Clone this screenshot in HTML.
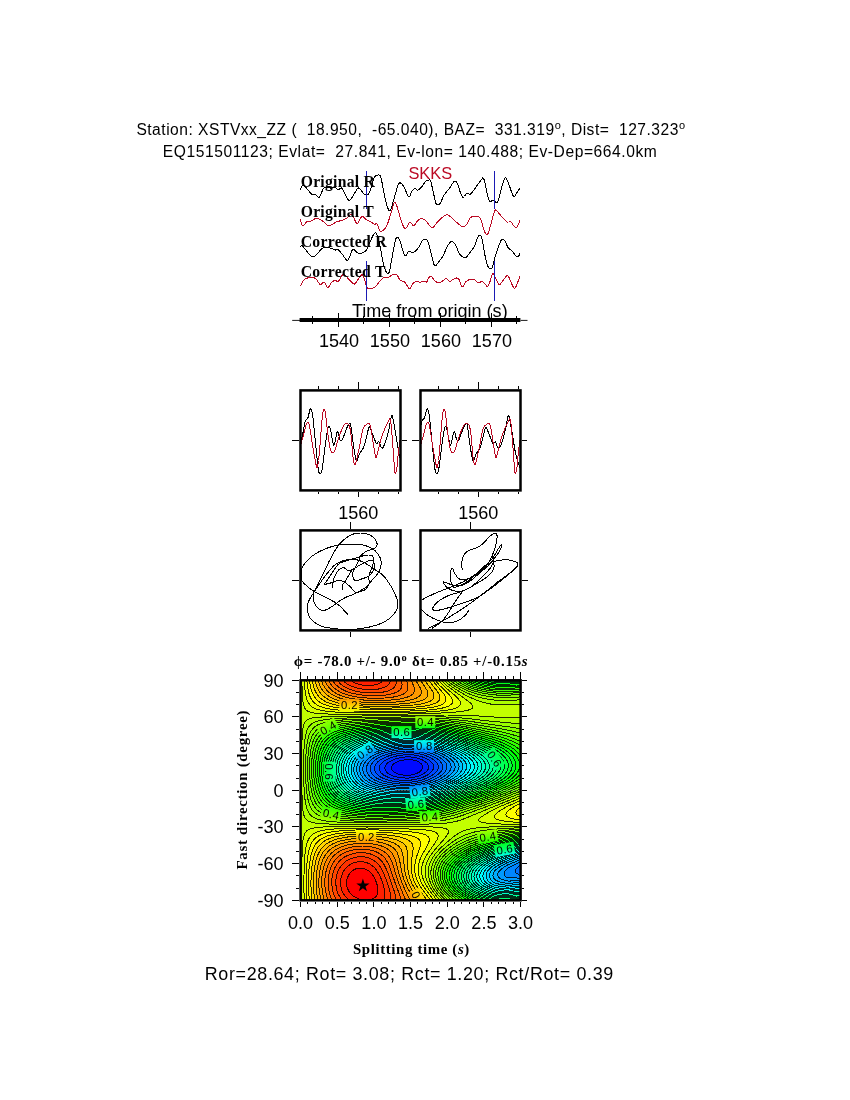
<!DOCTYPE html>
<html><head><meta charset="utf-8"><title>Shear-wave splitting XSTVxx_ZZ</title>
<style>html,body{margin:0;padding:0;background:#fff}body{width:850px;height:1100px;overflow:hidden}</style></head>
<body>
<svg width="850" height="1100" viewBox="0 0 850 1100" style="display:block">
<rect width="850" height="1100" fill="#fff"/>
<g font-family='"Liberation Sans", sans-serif' font-size="15.6" fill="#000" style="white-space:pre">
<text x="136.4" y="134.8" xml:space="preserve" textLength="548.6" lengthAdjust="spacing">Station: XSTVxx_ZZ (  18.950,  -65.040), BAZ=  331.319<tspan font-size="11" dy="-6">o</tspan><tspan dy="6">, Dist=  127.323</tspan><tspan font-size="11" dy="-6">o</tspan></text>
<text x="162.8" y="157.2" xml:space="preserve" textLength="494" lengthAdjust="spacing">EQ151501123; Evlat=  27.841, Ev-lon= 140.488; Ev-Dep=664.0km</text>
</g>
<path d="M300.5 190.5 L301.0 188.5 L301.5 186.9 L302.0 186.0 L302.5 185.5 L303.0 185.2 L303.5 185.2 L304.0 185.5 L304.5 185.9 L305.0 186.4 L305.5 186.9 L306.0 187.5 L306.5 188.1 L307.0 188.8 L307.5 189.4 L308.0 190.0 L308.5 190.6 L309.0 191.2 L309.5 191.8 L310.0 192.4 L310.5 193.0 L311.0 193.5 L311.5 194.0 L312.0 194.4 L312.5 194.5 L313.0 194.6 L313.5 194.5 L314.0 194.4 L314.5 194.4 L315.0 194.5 L315.5 194.8 L316.0 195.2 L316.5 195.7 L317.0 196.3 L317.5 196.8 L318.0 197.3 L318.5 197.5 L319.0 197.5 L319.5 197.1 L320.0 196.4 L320.5 195.3 L321.0 194.2 L321.5 193.0 L322.0 191.6 L322.5 190.1 L323.0 189.0 L323.5 188.4 L324.0 188.0 L324.5 187.7 L325.0 187.5 L325.5 187.5 L326.0 187.5 L326.5 187.5 L327.0 187.6 L327.5 187.7 L328.0 187.8 L328.5 187.9 L329.0 187.9 L329.5 188.0 L330.0 188.0 L330.5 188.0 L331.0 188.0 L331.5 187.9 L332.0 187.8 L332.5 187.7 L333.0 187.7 L333.5 187.6 L334.0 187.5 L334.5 187.5 L335.0 187.5 L335.5 187.6 L336.0 187.9 L336.5 188.4 L337.0 188.8 L337.5 189.2 L338.0 189.5 L338.5 189.5 L339.0 189.3 L339.5 188.9 L340.0 188.5 L340.5 188.1 L341.0 187.9 L341.5 188.0 L342.0 188.5 L342.5 189.3 L343.0 190.2 L343.5 191.1 L344.0 192.1 L344.5 193.1 L345.0 194.0 L345.5 194.9 L346.0 195.9 L346.5 197.0 L347.0 197.9 L347.5 198.8 L348.0 199.6 L348.5 200.2 L349.0 200.5 L349.5 200.5 L350.0 200.3 L350.5 199.8 L351.0 199.2 L351.5 198.4 L352.0 197.5 L352.5 196.6 L353.0 195.7 L353.5 194.8 L354.0 194.0 L354.5 193.2 L355.0 192.4 L355.5 191.6 L356.0 190.7 L356.5 189.9 L357.0 189.2 L357.5 188.5 L358.0 188.1 L358.5 188.0 L359.0 188.2 L359.5 188.6 L360.0 189.0 L360.5 189.5 L361.0 190.1 L361.5 190.8 L362.0 191.5 L362.5 192.2 L363.0 192.9 L363.5 193.5 L364.0 194.0 L364.5 194.4 L365.0 194.7 L365.5 194.9 L366.0 195.0 L366.5 195.0 L367.0 194.9 L367.5 194.7 L368.0 194.4 L368.5 193.8 L369.0 193.0 L369.5 192.0 L370.0 190.8 L370.5 189.4 L371.0 188.0 L371.5 186.4 L372.0 184.6 L372.5 182.7 L373.0 180.9 L373.5 179.3 L374.0 178.0 L374.5 177.1 L375.0 176.4 L375.5 175.9 L376.0 175.5 L376.5 175.3 L377.0 175.2 L377.5 175.1 L378.0 175.0 L378.5 174.9 L379.0 175.0 L379.5 175.2 L380.0 175.5 L380.5 176.4 L381.0 178.0 L381.5 180.1 L382.0 182.5 L382.5 185.1 L383.0 187.8 L383.5 190.5 L384.0 193.2 L384.5 195.7 L385.0 198.0 L385.5 200.1 L386.0 202.1 L386.5 203.9 L387.0 205.6 L387.5 207.2 L388.0 208.5 L388.5 209.6 L389.0 210.5 L389.5 211.0 L390.0 210.9 L390.5 210.3 L391.0 209.0 L391.5 207.4 L392.0 205.8 L392.5 204.1 L393.0 202.4 L393.5 200.7 L394.0 199.0 L394.5 197.2 L395.0 195.4 L395.5 193.6 L396.0 191.8 L396.5 190.0 L397.0 188.2 L397.5 186.5 L398.0 185.1 L398.5 184.0 L399.0 183.3 L399.5 183.0 L400.0 182.9 L400.5 183.0 L401.0 183.3 L401.5 183.7 L402.0 184.3 L402.5 184.9 L403.0 185.5 L403.5 186.3 L404.0 187.0 L404.5 187.9 L405.0 188.9 L405.5 190.1 L406.0 191.4 L406.5 192.7 L407.0 193.9 L407.5 195.0 L408.0 195.9 L408.5 196.6 L409.0 197.0 L409.5 196.8 L410.0 195.9 L410.5 194.6 L411.0 193.2 L411.5 191.9 L412.0 191.0 L412.5 190.4 L413.0 189.9 L413.5 189.4 L414.0 189.0 L414.5 188.7 L415.0 188.5 L415.5 188.6 L416.0 189.0 L416.5 189.5 L417.0 189.9 L417.5 190.2 L418.0 190.2 L418.5 189.9 L419.0 189.6 L419.5 189.2 L420.0 188.7 L420.5 188.2 L421.0 187.7 L421.5 187.1 L422.0 186.5 L422.5 185.8 L423.0 185.0 L423.5 184.2 L424.0 183.4 L424.5 182.7 L425.0 182.0 L425.5 181.5 L426.0 181.0 L426.5 180.7 L427.0 180.5 L427.5 180.3 L428.0 180.2 L428.5 180.1 L429.0 180.0 L429.5 179.9 L430.0 179.9 L430.5 180.5 L431.0 182.0 L431.5 184.2 L432.0 186.5 L432.5 188.7 L433.0 191.0 L433.5 193.2 L434.0 195.5 L434.5 197.7 L435.0 199.9 L435.5 202.0 L436.0 203.6 L436.5 204.4 L437.0 204.7 L437.5 204.6 L438.0 204.5 L438.5 204.5 L439.0 204.3 L439.5 204.1 L440.0 203.7 L440.5 203.0 L441.0 202.0 L441.5 200.9 L442.0 199.6 L442.5 198.2 L443.0 197.0 L443.5 195.9 L444.0 195.0 L444.5 194.3 L445.0 193.7 L445.5 193.0 L446.0 192.4 L446.5 191.8 L447.0 191.2 L447.5 190.6 L448.0 190.0 L448.5 189.4 L449.0 188.8 L449.5 188.2 L450.0 187.5 L450.5 186.8 L451.0 186.0 L451.5 185.2 L452.0 184.3 L452.5 183.5 L453.0 182.7 L453.5 182.0 L454.0 181.4 L454.5 181.1 L455.0 181.1 L455.5 181.2 L456.0 181.5 L456.5 182.0 L457.0 182.8 L457.5 183.8 L458.0 185.0 L458.5 186.4 L459.0 188.1 L459.5 189.8 L460.0 191.5 L460.5 193.0 L461.0 194.3 L461.5 195.4 L462.0 196.3 L462.5 197.0 L463.0 197.4 L463.5 197.5 L464.0 197.2 L464.5 196.5 L465.0 195.6 L465.5 194.7 L466.0 193.9 L466.5 193.5 L467.0 193.4 L467.5 193.4 L468.0 193.6 L468.5 193.8 L469.0 194.0 L469.5 194.1 L470.0 194.2 L470.5 194.1 L471.0 193.8 L471.5 193.3 L472.0 192.6 L472.5 191.9 L473.0 191.2 L473.5 190.5 L474.0 189.8 L474.5 189.1 L475.0 188.4 L475.5 187.7 L476.0 187.0 L476.5 186.3 L477.0 185.6 L477.5 184.9 L478.0 184.2 L478.5 183.5 L479.0 182.8 L479.5 182.1 L480.0 181.4 L480.5 180.8 L481.0 180.1 L481.5 179.4 L482.0 178.7 L482.5 178.0 L483.0 177.7 L483.5 178.3 L484.0 179.4 L484.5 181.0 L485.0 183.1 L485.5 185.6 L486.0 188.2 L486.5 190.8 L487.0 193.0 L487.5 195.0 L488.0 197.0 L488.5 198.8 L489.0 200.2 L489.5 201.0 L490.0 201.3 L490.5 201.4 L491.0 201.3 L491.5 201.0 L492.0 200.8 L492.5 200.5 L493.0 200.4 L493.5 200.5 L494.0 200.8 L494.5 201.1 L495.0 201.6 L495.5 202.0 L496.0 202.3 L496.5 202.5 L497.0 202.5 L497.5 202.1 L498.0 201.3 L498.5 200.0 L499.0 198.2 L499.5 196.2 L500.0 194.0 L500.5 191.9 L501.0 190.0 L501.5 188.2 L502.0 186.4 L502.5 184.7 L503.0 183.1 L503.5 181.5 L504.0 180.0 L504.5 178.8 L505.0 178.0 L505.5 177.7 L506.0 178.0 L506.5 178.7 L507.0 179.7 L507.5 180.8 L508.0 182.0 L508.5 183.3 L509.0 184.7 L509.5 186.1 L510.0 187.5 L510.5 189.0 L511.0 190.4 L511.5 191.7 L512.0 193.0 L512.5 194.3 L513.0 195.4 L513.5 196.3 L514.0 196.7 L514.5 196.5 L515.0 195.8 L515.5 195.0 L516.0 194.1 L516.5 193.3 L517.0 192.5 L517.5 191.8 L518.0 191.0 L518.5 190.3 L519.0 189.6 L519.5 188.9 L520.0 188.2" fill="none" stroke="#000" stroke-width="1.0" stroke-linejoin="round" shape-rendering="crispEdges" />
<path d="M300.5 219.5 L301.0 221.7 L301.5 223.6 L302.0 224.9 L302.5 225.5 L303.0 225.6 L303.5 225.4 L304.0 225.0 L304.5 224.4 L305.0 223.8 L305.5 223.1 L306.0 222.4 L306.5 221.8 L307.0 221.5 L307.5 221.3 L308.0 221.2 L308.5 221.2 L309.0 221.2 L309.5 221.2 L310.0 221.2 L310.5 221.1 L311.0 221.0 L311.5 220.8 L312.0 220.5 L312.5 220.3 L313.0 220.0 L313.5 219.6 L314.0 219.3 L314.5 219.1 L315.0 218.8 L315.5 218.6 L316.0 218.5 L316.5 218.4 L317.0 218.4 L317.5 218.5 L318.0 218.6 L318.5 218.8 L319.0 219.0 L319.5 219.2 L320.0 219.5 L320.5 219.8 L321.0 220.1 L321.5 220.4 L322.0 220.7 L322.5 221.0 L323.0 221.3 L323.5 221.7 L324.0 222.0 L324.5 222.4 L325.0 222.9 L325.5 223.4 L326.0 223.9 L326.5 224.4 L327.0 224.9 L327.5 225.3 L328.0 225.5 L328.5 225.6 L329.0 225.6 L329.5 225.6 L330.0 225.5 L330.5 225.3 L331.0 225.1 L331.5 224.8 L332.0 224.6 L332.5 224.3 L333.0 224.0 L333.5 223.7 L334.0 223.4 L334.5 223.0 L335.0 222.7 L335.5 222.3 L336.0 222.0 L336.5 221.7 L337.0 221.5 L337.5 221.3 L338.0 221.2 L338.5 221.1 L339.0 221.0 L339.5 221.0 L340.0 220.9 L340.5 220.9 L341.0 220.8 L341.5 220.7 L342.0 220.5 L342.5 220.3 L343.0 220.1 L343.5 219.9 L344.0 219.6 L344.5 219.4 L345.0 219.1 L345.5 218.8 L346.0 218.6 L346.5 218.3 L347.0 218.0 L347.5 217.7 L348.0 217.2 L348.5 216.8 L349.0 216.2 L349.5 215.7 L350.0 215.2 L350.5 214.8 L351.0 214.5 L351.5 214.5 L352.0 214.8 L352.5 215.3 L353.0 216.0 L353.5 216.9 L354.0 218.0 L354.5 219.3 L355.0 220.5 L355.5 221.6 L356.0 222.5 L356.5 223.1 L357.0 223.3 L357.5 223.3 L358.0 223.0 L358.5 222.3 L359.0 221.4 L359.5 220.3 L360.0 219.2 L360.5 218.2 L361.0 217.5 L361.5 217.0 L362.0 216.6 L362.5 216.4 L363.0 216.5 L363.5 216.9 L364.0 217.4 L364.5 218.0 L365.0 218.6 L365.5 219.1 L366.0 219.5 L366.5 219.8 L367.0 220.0 L367.5 220.3 L368.0 220.5 L368.5 220.7 L369.0 221.0 L369.5 221.2 L370.0 221.5 L370.5 221.8 L371.0 222.1 L371.5 222.4 L372.0 222.7 L372.5 223.1 L373.0 223.4 L373.5 223.7 L374.0 224.0 L374.5 224.2 L375.0 224.2 L375.5 224.0 L376.0 223.9 L376.5 223.9 L377.0 224.0 L377.5 224.6 L378.0 225.9 L378.5 227.4 L379.0 228.9 L379.5 230.2 L380.0 231.0 L380.5 231.3 L381.0 231.4 L381.5 231.3 L382.0 231.0 L382.5 230.7 L383.0 230.3 L383.5 230.0 L384.0 229.6 L384.5 229.2 L385.0 228.7 L385.5 228.1 L386.0 227.3 L386.5 226.4 L387.0 225.3 L387.5 224.0 L388.0 222.6 L388.5 221.0 L389.0 219.5 L389.5 217.9 L390.0 216.3 L390.5 214.6 L391.0 213.0 L391.5 211.3 L392.0 209.6 L392.5 207.9 L393.0 206.1 L393.5 204.5 L394.0 203.2 L394.5 202.5 L395.0 202.5 L395.5 203.0 L396.0 204.0 L396.5 205.1 L397.0 206.5 L397.5 208.0 L398.0 209.6 L398.5 211.4 L399.0 213.1 L399.5 214.9 L400.0 216.7 L400.5 218.4 L401.0 220.0 L401.5 221.5 L402.0 223.0 L402.5 224.3 L403.0 225.5 L403.5 226.6 L404.0 227.5 L404.5 228.1 L405.0 228.5 L405.5 228.5 L406.0 228.2 L406.5 227.7 L407.0 227.0 L407.5 226.2 L408.0 225.2 L408.5 224.1 L409.0 223.2 L409.5 222.5 L410.0 222.3 L410.5 222.5 L411.0 222.9 L411.5 223.6 L412.0 224.3 L412.5 224.9 L413.0 225.4 L413.5 225.7 L414.0 225.5 L414.5 225.0 L415.0 224.4 L415.5 223.7 L416.0 223.0 L416.5 222.2 L417.0 221.6 L417.5 221.0 L418.0 220.5 L418.5 220.1 L419.0 219.7 L419.5 219.4 L420.0 219.1 L420.5 218.8 L421.0 218.6 L421.5 218.5 L422.0 218.5 L422.5 218.6 L423.0 218.8 L423.5 219.1 L424.0 219.4 L424.5 219.7 L425.0 220.0 L425.5 220.4 L426.0 220.9 L426.5 221.4 L427.0 222.1 L427.5 222.7 L428.0 223.4 L428.5 224.1 L429.0 224.8 L429.5 225.5 L430.0 226.1 L430.5 226.6 L431.0 227.1 L431.5 227.4 L432.0 227.6 L432.5 227.6 L433.0 227.5 L433.5 227.2 L434.0 226.7 L434.5 226.0 L435.0 225.3 L435.5 224.5 L436.0 223.8 L436.5 223.1 L437.0 222.5 L437.5 222.0 L438.0 221.5 L438.5 221.0 L439.0 220.5 L439.5 220.0 L440.0 219.5 L440.5 219.0 L441.0 218.5 L441.5 218.0 L442.0 217.6 L442.5 217.2 L443.0 216.8 L443.5 216.4 L444.0 216.1 L444.5 215.8 L445.0 215.5 L445.5 215.2 L446.0 215.0 L446.5 214.8 L447.0 214.7 L447.5 214.8 L448.0 214.9 L448.5 215.1 L449.0 215.5 L449.5 215.9 L450.0 216.4 L450.5 216.8 L451.0 217.3 L451.5 217.8 L452.0 218.3 L452.5 218.7 L453.0 219.2 L453.5 219.7 L454.0 220.1 L454.5 220.6 L455.0 221.0 L455.5 221.4 L456.0 221.8 L456.5 222.3 L457.0 222.7 L457.5 223.1 L458.0 223.5 L458.5 223.9 L459.0 224.3 L459.5 224.7 L460.0 225.1 L460.5 225.4 L461.0 225.8 L461.5 226.2 L462.0 226.5 L462.5 226.8 L463.0 226.9 L463.5 226.8 L464.0 226.7 L464.5 226.4 L465.0 226.1 L465.5 225.6 L466.0 225.1 L466.5 224.6 L467.0 224.0 L467.5 223.2 L468.0 222.1 L468.5 220.9 L469.0 219.7 L469.5 218.7 L470.0 218.0 L470.5 217.6 L471.0 217.3 L471.5 217.0 L472.0 216.8 L472.5 216.6 L473.0 216.5 L473.5 216.4 L474.0 216.3 L474.5 216.2 L475.0 216.2 L475.5 216.1 L476.0 216.1 L476.5 216.2 L477.0 216.2 L477.5 216.3 L478.0 216.4 L478.5 216.5 L479.0 216.8 L479.5 217.3 L480.0 218.0 L480.5 218.9 L481.0 220.0 L481.5 221.3 L482.0 223.0 L482.5 224.8 L483.0 226.7 L483.5 228.5 L484.0 230.0 L484.5 231.3 L485.0 232.4 L485.5 233.3 L486.0 234.0 L486.5 234.4 L487.0 234.5 L487.5 234.2 L488.0 233.6 L488.5 232.5 L489.0 231.0 L489.5 229.2 L490.0 227.4 L490.5 225.5 L491.0 223.6 L491.5 221.8 L492.0 220.0 L492.5 218.2 L493.0 216.4 L493.5 214.7 L494.0 213.1 L494.5 211.7 L495.0 210.5 L495.5 209.9 L496.0 210.0 L496.5 210.4 L497.0 211.0 L497.5 211.6 L498.0 212.2 L498.5 212.8 L499.0 213.4 L499.5 214.0 L500.0 214.6 L500.5 215.2 L501.0 215.8 L501.5 216.4 L502.0 217.0 L502.5 217.6 L503.0 218.1 L503.5 218.6 L504.0 219.2 L504.5 219.7 L505.0 220.2 L505.5 220.7 L506.0 221.2 L506.5 221.6 L507.0 222.1 L507.5 222.5 L508.0 222.7 L508.5 222.5 L509.0 222.0 L509.5 221.6 L510.0 221.4 L510.5 221.5 L511.0 222.0 L511.5 222.6 L512.0 223.3 L512.5 224.0 L513.0 224.7 L513.5 225.4 L514.0 226.0 L514.5 226.5 L515.0 227.0 L515.5 227.4 L516.0 227.6 L516.5 227.5 L517.0 227.1 L517.5 226.3 L518.0 225.2 L518.5 224.0 L519.0 222.8 L519.5 221.5 L520.0 220.0" fill="none" stroke="#bb0a24" stroke-width="1.0" stroke-linejoin="round" shape-rendering="crispEdges" />
<path d="M300.5 247.0 L301.0 246.0 L301.5 245.4 L302.0 245.5 L302.5 246.1 L303.0 246.6 L303.5 247.2 L304.0 247.8 L304.5 248.4 L305.0 249.0 L305.5 249.6 L306.0 250.2 L306.5 250.9 L307.0 251.5 L307.5 252.1 L308.0 252.8 L308.5 253.4 L309.0 254.0 L309.5 254.6 L310.0 255.1 L310.5 255.6 L311.0 256.0 L311.5 256.3 L312.0 256.6 L312.5 256.7 L313.0 256.8 L313.5 256.7 L314.0 256.5 L314.5 256.2 L315.0 255.8 L315.5 255.4 L316.0 255.0 L316.5 254.5 L317.0 254.0 L317.5 253.5 L318.0 253.0 L318.5 252.5 L319.0 251.9 L319.5 251.2 L320.0 250.6 L320.5 250.0 L321.0 249.4 L321.5 248.9 L322.0 248.5 L322.5 248.2 L323.0 247.9 L323.5 247.7 L324.0 247.5 L324.5 247.5 L325.0 247.4 L325.5 247.4 L326.0 247.4 L326.5 247.5 L327.0 247.5 L327.5 247.6 L328.0 247.6 L328.5 247.7 L329.0 247.8 L329.5 247.9 L330.0 248.0 L330.5 248.1 L331.0 248.2 L331.5 248.4 L332.0 248.5 L332.5 248.7 L333.0 248.9 L333.5 249.2 L334.0 249.5 L334.5 249.8 L335.0 250.0 L335.5 250.0 L336.0 249.8 L336.5 249.6 L337.0 249.3 L337.5 249.3 L338.0 249.5 L338.5 250.0 L339.0 250.5 L339.5 251.0 L340.0 251.6 L340.5 252.2 L341.0 252.8 L341.5 253.4 L342.0 254.0 L342.5 254.6 L343.0 255.3 L343.5 256.0 L344.0 256.7 L344.5 257.4 L345.0 258.1 L345.5 258.8 L346.0 259.4 L346.5 260.0 L347.0 260.5 L347.5 260.6 L348.0 260.1 L348.5 259.2 L349.0 258.1 L349.5 257.0 L350.0 255.8 L350.5 254.4 L351.0 252.9 L351.5 251.5 L352.0 250.5 L352.5 249.8 L353.0 249.4 L353.5 249.3 L354.0 249.5 L354.5 249.9 L355.0 250.4 L355.5 251.0 L356.0 251.6 L356.5 252.1 L357.0 252.5 L357.5 252.8 L358.0 253.0 L358.5 253.2 L359.0 253.4 L359.5 253.5 L360.0 253.5 L360.5 253.5 L361.0 253.4 L361.5 253.2 L362.0 253.0 L362.5 252.8 L363.0 252.6 L363.5 252.3 L364.0 252.0 L364.5 251.7 L365.0 251.4 L365.5 251.0 L366.0 250.6 L366.5 249.9 L367.0 249.0 L367.5 247.9 L368.0 246.8 L368.5 245.6 L369.0 244.4 L369.5 243.2 L370.0 242.0 L370.5 240.9 L371.0 239.8 L371.5 238.7 L372.0 237.6 L372.5 236.6 L373.0 235.5 L373.5 234.6 L374.0 233.9 L374.5 233.4 L375.0 233.0 L375.5 232.9 L376.0 233.2 L376.5 233.9 L377.0 235.0 L377.5 236.4 L378.0 238.0 L378.5 239.7 L379.0 241.7 L379.5 243.8 L380.0 246.0 L380.5 248.5 L381.0 251.2 L381.5 254.1 L382.0 256.9 L382.5 259.6 L383.0 262.0 L383.5 264.1 L384.0 265.9 L384.5 267.5 L385.0 269.0 L385.5 270.3 L386.0 271.5 L386.5 272.5 L387.0 273.1 L387.5 273.5 L388.0 273.5 L388.5 273.2 L389.0 272.5 L389.5 271.1 L390.0 269.0 L390.5 266.3 L391.0 263.5 L391.5 260.6 L392.0 257.8 L392.5 255.0 L393.0 252.3 L393.5 249.6 L394.0 247.0 L394.5 244.5 L395.0 242.0 L395.5 240.0 L396.0 238.6 L396.5 237.8 L397.0 237.5 L397.5 237.5 L398.0 237.7 L398.5 238.2 L399.0 238.8 L399.5 239.8 L400.0 241.0 L400.5 242.5 L401.0 244.2 L401.5 246.0 L402.0 247.8 L402.5 249.5 L403.0 251.0 L403.5 252.4 L404.0 253.7 L404.5 254.8 L405.0 255.6 L405.5 256.0 L406.0 255.8 L406.5 255.1 L407.0 254.0 L407.5 252.9 L408.0 252.0 L408.5 251.5 L409.0 251.4 L409.5 251.4 L410.0 251.5 L410.5 251.7 L411.0 251.9 L411.5 252.1 L412.0 252.2 L412.5 252.3 L413.0 252.3 L413.5 252.2 L414.0 252.0 L414.5 251.7 L415.0 251.3 L415.5 250.9 L416.0 250.5 L416.5 250.0 L417.0 249.5 L417.5 248.9 L418.0 248.3 L418.5 247.7 L419.0 247.0 L419.5 246.2 L420.0 245.3 L420.5 244.3 L421.0 243.2 L421.5 242.2 L422.0 241.3 L422.5 240.5 L423.0 239.9 L423.5 239.5 L424.0 239.2 L424.5 239.0 L425.0 239.0 L425.5 239.0 L426.0 239.1 L426.5 239.4 L427.0 239.9 L427.5 240.6 L428.0 241.6 L428.5 243.0 L429.0 244.7 L429.5 246.6 L430.0 248.7 L430.5 250.9 L431.0 253.0 L431.5 255.1 L432.0 257.0 L432.5 258.9 L433.0 260.9 L433.5 262.8 L434.0 264.4 L434.5 265.6 L435.0 266.0 L435.5 265.9 L436.0 265.5 L436.5 264.9 L437.0 264.2 L437.5 263.5 L438.0 262.9 L438.5 262.2 L439.0 261.6 L439.5 261.0 L440.0 260.3 L440.5 259.7 L441.0 259.0 L441.5 258.3 L442.0 257.6 L442.5 256.8 L443.0 256.0 L443.5 255.1 L444.0 254.0 L444.5 252.9 L445.0 251.6 L445.5 250.4 L446.0 249.2 L446.5 248.0 L447.0 247.0 L447.5 246.1 L448.0 245.2 L448.5 244.5 L449.0 243.8 L449.5 243.1 L450.0 242.5 L450.5 242.0 L451.0 241.6 L451.5 241.4 L452.0 241.4 L452.5 241.5 L453.0 241.8 L453.5 242.2 L454.0 242.8 L454.5 243.5 L455.0 244.2 L455.5 245.1 L456.0 246.0 L456.5 247.1 L457.0 248.3 L457.5 249.6 L458.0 250.9 L458.5 252.1 L459.0 253.0 L459.5 253.7 L460.0 254.4 L460.5 255.0 L461.0 255.5 L461.5 255.9 L462.0 256.3 L462.5 256.7 L463.0 257.0 L463.5 257.3 L464.0 257.6 L464.5 257.9 L465.0 258.0 L465.5 257.9 L466.0 257.5 L466.5 256.9 L467.0 256.4 L467.5 255.8 L468.0 255.1 L468.5 254.5 L469.0 253.8 L469.5 253.2 L470.0 252.5 L470.5 251.8 L471.0 251.2 L471.5 250.5 L472.0 249.8 L472.5 249.1 L473.0 248.4 L473.5 247.7 L474.0 247.0 L474.5 246.1 L475.0 244.9 L475.5 243.5 L476.0 242.1 L476.5 240.6 L477.0 239.2 L477.5 238.0 L478.0 237.0 L478.5 236.2 L479.0 235.6 L479.5 235.2 L480.0 235.0 L480.5 235.1 L481.0 235.8 L481.5 237.0 L482.0 239.0 L482.5 241.5 L483.0 244.4 L483.5 247.4 L484.0 250.3 L484.5 253.0 L485.0 255.5 L485.5 257.8 L486.0 260.1 L486.5 262.2 L487.0 264.0 L487.5 265.5 L488.0 266.6 L488.5 267.4 L489.0 267.9 L489.5 268.3 L490.0 268.5 L490.5 268.7 L491.0 268.7 L491.5 268.4 L492.0 267.8 L492.5 266.5 L493.0 264.7 L493.5 262.8 L494.0 260.8 L494.5 259.0 L495.0 257.4 L495.5 255.7 L496.0 254.1 L496.5 252.6 L497.0 251.0 L497.5 249.5 L498.0 248.0 L498.5 246.6 L499.0 245.3 L499.5 244.0 L500.0 242.7 L500.5 241.5 L501.0 240.5 L501.5 239.8 L502.0 239.4 L502.5 239.2 L503.0 239.3 L503.5 239.5 L504.0 240.0 L504.5 240.5 L505.0 241.2 L505.5 242.0 L506.0 243.0 L506.5 244.3 L507.0 245.5 L507.5 246.7 L508.0 247.5 L508.5 248.1 L509.0 248.5 L509.5 248.9 L510.0 249.3 L510.5 249.7 L511.0 250.1 L511.5 250.5 L512.0 251.0 L512.5 251.6 L513.0 252.2 L513.5 252.8 L514.0 253.5 L514.5 254.2 L515.0 254.8 L515.5 255.4 L516.0 256.0 L516.5 256.4 L517.0 256.6 L517.5 256.6 L518.0 256.5 L518.5 256.1 L519.0 255.5 L519.5 254.6 L520.0 253.5" fill="none" stroke="#000" stroke-width="1.0" stroke-linejoin="round" shape-rendering="crispEdges" />
<path d="M300.5 286.5 L301.0 285.1 L301.5 283.8 L302.0 282.7 L302.5 281.8 L303.0 281.0 L303.5 280.4 L304.0 279.9 L304.5 279.4 L305.0 279.0 L305.5 278.7 L306.0 278.5 L306.5 278.3 L307.0 278.2 L307.5 278.0 L308.0 277.9 L308.5 277.8 L309.0 277.6 L309.5 277.6 L310.0 277.5 L310.5 277.4 L311.0 277.4 L311.5 277.4 L312.0 277.4 L312.5 277.4 L313.0 277.5 L313.5 277.6 L314.0 277.8 L314.5 278.0 L315.0 278.3 L315.5 278.7 L316.0 279.0 L316.5 279.5 L317.0 280.1 L317.5 280.9 L318.0 281.7 L318.5 282.6 L319.0 283.3 L319.5 284.0 L320.0 284.5 L320.5 284.7 L321.0 284.5 L321.5 284.1 L322.0 283.5 L322.5 282.9 L323.0 282.4 L323.5 282.1 L324.0 282.0 L324.5 282.3 L325.0 283.1 L325.5 284.1 L326.0 285.1 L326.5 286.2 L327.0 287.0 L327.5 287.5 L328.0 287.5 L328.5 287.1 L329.0 286.5 L329.5 285.7 L330.0 284.8 L330.5 284.0 L331.0 283.2 L331.5 282.5 L332.0 282.0 L332.5 281.7 L333.0 281.3 L333.5 281.1 L334.0 280.8 L334.5 280.6 L335.0 280.5 L335.5 280.5 L336.0 280.7 L336.5 281.0 L337.0 281.3 L337.5 281.5 L338.0 281.5 L338.5 281.2 L339.0 280.7 L339.5 279.9 L340.0 279.0 L340.5 278.0 L341.0 277.1 L341.5 276.2 L342.0 275.4 L342.5 274.8 L343.0 274.5 L343.5 274.4 L344.0 274.4 L344.5 274.6 L345.0 275.0 L345.5 275.5 L346.0 276.1 L346.5 276.7 L347.0 277.2 L347.5 277.8 L348.0 278.4 L348.5 279.0 L349.0 279.5 L349.5 280.0 L350.0 280.6 L350.5 281.1 L351.0 281.7 L351.5 282.2 L352.0 282.7 L352.5 283.1 L353.0 283.5 L353.5 283.8 L354.0 284.0 L354.5 284.0 L355.0 283.7 L355.5 283.1 L356.0 282.4 L356.5 281.7 L357.0 281.0 L357.5 280.3 L358.0 279.5 L358.5 278.8 L359.0 278.0 L359.5 277.2 L360.0 276.5 L360.5 275.8 L361.0 275.3 L361.5 274.9 L362.0 274.7 L362.5 275.0 L363.0 275.7 L363.5 276.8 L364.0 278.1 L364.5 279.5 L365.0 281.0 L365.5 282.7 L366.0 284.6 L366.5 286.3 L367.0 287.5 L367.5 288.1 L368.0 288.5 L368.5 288.6 L369.0 288.7 L369.5 288.6 L370.0 288.5 L370.5 288.4 L371.0 288.4 L371.5 288.3 L372.0 288.3 L372.5 288.2 L373.0 288.1 L373.5 287.9 L374.0 287.7 L374.5 287.4 L375.0 287.0 L375.5 286.5 L376.0 286.0 L376.5 285.4 L377.0 284.7 L377.5 284.1 L378.0 283.4 L378.5 282.8 L379.0 282.1 L379.5 281.5 L380.0 281.0 L380.5 280.5 L381.0 280.0 L381.5 279.5 L382.0 279.0 L382.5 278.6 L383.0 278.2 L383.5 277.8 L384.0 277.5 L384.5 277.3 L385.0 277.2 L385.5 277.3 L386.0 277.4 L386.5 277.5 L387.0 277.6 L387.5 277.6 L388.0 277.5 L388.5 277.3 L389.0 277.0 L389.5 276.7 L390.0 276.4 L390.5 276.0 L391.0 275.7 L391.5 275.4 L392.0 275.0 L392.5 274.7 L393.0 274.5 L393.5 274.3 L394.0 274.2 L394.5 274.1 L395.0 274.1 L395.5 274.1 L396.0 274.3 L396.5 274.5 L397.0 275.0 L397.5 275.7 L398.0 276.6 L398.5 277.6 L399.0 278.6 L399.5 279.4 L400.0 280.0 L400.5 280.4 L401.0 280.6 L401.5 280.8 L402.0 281.0 L402.5 281.1 L403.0 281.3 L403.5 281.5 L404.0 281.7 L404.5 282.0 L405.0 282.5 L405.5 283.1 L406.0 283.9 L406.5 284.8 L407.0 285.6 L407.5 286.5 L408.0 287.3 L408.5 287.9 L409.0 288.3 L409.5 288.5 L410.0 288.4 L410.5 287.9 L411.0 287.2 L411.5 286.3 L412.0 285.4 L412.5 284.4 L413.0 283.6 L413.5 282.9 L414.0 282.5 L414.5 282.2 L415.0 282.0 L415.5 281.8 L416.0 281.6 L416.5 281.5 L417.0 281.5 L417.5 281.6 L418.0 281.7 L418.5 281.9 L419.0 282.0 L419.5 282.2 L420.0 282.2 L420.5 282.2 L421.0 282.0 L421.5 281.9 L422.0 281.7 L422.5 281.5 L423.0 281.3 L423.5 281.1 L424.0 281.0 L424.5 281.1 L425.0 281.4 L425.5 281.7 L426.0 282.0 L426.5 282.0 L427.0 281.5 L427.5 280.5 L428.0 279.4 L428.5 278.3 L429.0 277.5 L429.5 277.0 L430.0 276.6 L430.5 276.3 L431.0 276.3 L431.5 276.5 L432.0 277.0 L432.5 277.7 L433.0 278.5 L433.5 279.2 L434.0 280.0 L434.5 280.5 L435.0 280.9 L435.5 281.4 L436.0 281.7 L436.5 282.1 L437.0 282.3 L437.5 282.5 L438.0 282.6 L438.5 282.6 L439.0 282.5 L439.5 282.4 L440.0 282.3 L440.5 282.2 L441.0 282.0 L441.5 281.8 L442.0 281.5 L442.5 281.1 L443.0 280.7 L443.5 280.2 L444.0 279.8 L444.5 279.4 L445.0 279.0 L445.5 278.7 L446.0 278.5 L446.5 278.5 L447.0 278.9 L447.5 279.4 L448.0 280.1 L448.5 280.7 L449.0 281.2 L449.5 281.5 L450.0 281.5 L450.5 281.2 L451.0 280.9 L451.5 280.5 L452.0 280.1 L452.5 279.8 L453.0 279.5 L453.5 279.2 L454.0 279.0 L454.5 278.8 L455.0 278.6 L455.5 278.4 L456.0 278.2 L456.5 278.0 L457.0 277.9 L457.5 278.1 L458.0 278.4 L458.5 278.9 L459.0 279.5 L459.5 280.6 L460.0 282.1 L460.5 283.8 L461.0 285.0 L461.5 285.8 L462.0 286.4 L462.5 286.7 L463.0 286.5 L463.5 285.9 L464.0 285.0 L464.5 284.0 L465.0 282.9 L465.5 282.1 L466.0 281.5 L466.5 281.2 L467.0 280.8 L467.5 280.5 L468.0 280.3 L468.5 280.0 L469.0 279.8 L469.5 279.6 L470.0 279.5 L470.5 279.4 L471.0 279.3 L471.5 279.3 L472.0 279.3 L472.5 279.3 L473.0 279.3 L473.5 279.4 L474.0 279.5 L474.5 279.7 L475.0 280.0 L475.5 280.5 L476.0 280.9 L476.5 281.5 L477.0 282.0 L477.5 282.4 L478.0 282.8 L478.5 283.0 L479.0 283.0 L479.5 282.8 L480.0 282.4 L480.5 282.0 L481.0 281.6 L481.5 281.4 L482.0 281.5 L482.5 281.8 L483.0 282.2 L483.5 282.6 L484.0 283.0 L484.5 283.5 L485.0 284.0 L485.5 284.6 L486.0 285.3 L486.5 286.0 L487.0 286.5 L487.5 286.6 L488.0 286.1 L488.5 285.3 L489.0 284.2 L489.5 283.0 L490.0 281.6 L490.5 279.9 L491.0 278.1 L491.5 276.4 L492.0 275.0 L492.5 273.9 L493.0 273.2 L493.5 273.5 L494.0 274.5 L494.5 275.6 L495.0 276.8 L495.5 277.9 L496.0 279.0 L496.5 280.0 L497.0 281.0 L497.5 282.0 L498.0 283.0 L498.5 283.9 L499.0 284.6 L499.5 284.8 L500.0 284.5 L500.5 283.8 L501.0 283.2 L501.5 282.5 L502.0 281.8 L502.5 281.2 L503.0 280.5 L503.5 279.8 L504.0 279.2 L504.5 278.5 L505.0 277.8 L505.5 277.2 L506.0 276.5 L506.5 276.0 L507.0 275.8 L507.5 275.9 L508.0 276.2 L508.5 276.7 L509.0 277.5 L509.5 278.5 L510.0 279.6 L510.5 280.9 L511.0 282.2 L511.5 283.4 L512.0 284.5 L512.5 285.6 L513.0 286.6 L513.5 287.6 L514.0 288.2 L514.5 288.5 L515.0 288.2 L515.5 287.5 L516.0 286.5 L516.5 285.3 L517.0 284.0 L517.5 282.8 L518.0 281.5 L518.5 280.2 L519.0 278.9 L519.5 277.5 L520.0 276.0" fill="none" stroke="#bb0a24" stroke-width="1.0" stroke-linejoin="round" shape-rendering="crispEdges" />
<path d="M366.5 171 V209 M366.5 260.5 V300.5" stroke="#1a1ab4" stroke-width="1" fill="none" shape-rendering="crispEdges"/>
<path d="M494.5 171 V209 M494.5 260.5 V300.5" stroke="#1a1ab4" stroke-width="1" fill="none" shape-rendering="crispEdges"/>
<g font-family='"Liberation Serif", serif' font-weight="bold" font-size="15.7" fill="#000">
<text x="300.7" y="186.9" textLength="74.2" lengthAdjust="spacing">Original R</text>
<text x="300.7" y="216.7" textLength="73.0" lengthAdjust="spacing">Original T</text>
<text x="300.7" y="246.6" textLength="86.0" lengthAdjust="spacing">Corrected R</text>
<text x="300.7" y="276.8" textLength="84.8" lengthAdjust="spacing">Corrected T</text>
</g>
<text x="408.4" y="179" font-family='"Liberation Sans", sans-serif' font-size="16.4" fill="#bb0a24">SKKS</text>
<text x="351.9" y="316.6" font-family='"Liberation Sans", sans-serif' font-size="18.06" fill="#000">Time from origin (s)</text>
<path d="M299.6 320 H520.4" stroke="#000" stroke-width="3.8"/>
<path d="M292.2 320.4 H300 M520.6 320.4 H527.5" stroke="#000" stroke-width="0.9"/>
<path d="M312.9 316.2 V323.8 M338.4 312.8 V327.2 M363.9 316.2 V323.8 M389.3 312.8 V327.2 M414.8 316.2 V323.8 M440.3 312.8 V327.2 M465.8 316.2 V323.8 M491.2 312.8 V327.2 M516.7 316.2 V323.8 " stroke="#000" stroke-width="1" shape-rendering="crispEdges"/>
<g font-family='"Liberation Sans", sans-serif' font-size="18.06" fill="#000" text-anchor="middle">
<text x="339.0" y="347.2">1540</text>
<text x="389.9" y="347.2">1550</text>
<text x="440.9" y="347.2">1560</text>
<text x="491.9" y="347.2">1570</text>
</g>
<clipPath id="cm0"><rect x="300.5" y="390.4" width="100" height="100"/></clipPath>
<g clip-path="url(#cm0)">
<path d="M300.5 443.0 L301.0 441.2 L301.5 439.2 L302.0 437.1 L302.5 435.0 L303.0 432.6 L303.5 429.8 L304.0 427.0 L304.5 424.3 L305.0 422.0 L305.5 420.5 L306.0 419.7 L306.5 419.3 L307.0 419.0 L307.5 418.5 L308.0 417.5 L308.5 415.7 L309.0 413.5 L309.5 411.2 L310.0 409.5 L310.5 408.8 L311.0 409.1 L311.5 410.1 L312.0 411.6 L312.5 414.0 L313.0 418.0 L313.5 423.0 L314.0 428.0 L314.5 433.0 L315.0 438.0 L315.5 443.0 L316.0 448.0 L316.5 453.0 L317.0 458.0 L317.5 462.6 L318.0 466.6 L318.5 470.0 L319.0 472.4 L319.5 473.6 L320.0 473.8 L320.5 473.5 L321.0 472.9 L321.5 471.8 L322.0 470.0 L322.5 467.0 L323.0 463.1 L323.5 459.1 L324.0 454.9 L324.5 451.0 L325.0 447.2 L325.5 443.6 L326.0 439.9 L326.5 436.4 L327.0 433.0 L327.5 430.1 L328.0 428.1 L328.5 426.9 L329.0 426.5 L329.5 427.0 L330.0 428.3 L330.5 430.0 L331.0 432.2 L331.5 435.0 L332.0 438.0 L332.5 440.9 L333.0 443.4 L333.5 445.0 L334.0 445.1 L334.5 444.0 L335.0 442.3 L335.5 439.8 L336.0 437.1 L336.5 434.5 L337.0 432.5 L337.5 431.5 L338.0 431.9 L338.5 433.4 L339.0 435.6 L339.5 437.9 L340.0 439.7 L340.5 440.5 L341.0 440.7 L341.5 440.7 L342.0 440.3 L342.5 439.5 L343.0 438.3 L343.5 436.9 L344.0 435.5 L344.5 434.1 L345.0 432.7 L345.5 431.3 L346.0 430.0 L346.5 428.8 L347.0 427.6 L347.5 426.5 L348.0 425.5 L348.5 424.6 L349.0 423.7 L349.5 423.0 L350.0 423.0 L350.5 424.3 L351.0 427.0 L351.5 430.6 L352.0 434.4 L352.5 438.3 L353.0 442.0 L353.5 445.4 L354.0 448.8 L354.5 452.0 L355.0 455.0 L355.5 457.7 L356.0 459.6 L356.5 460.7 L357.0 460.5 L357.5 459.5 L358.0 458.1 L358.5 456.6 L359.0 455.2 L359.5 454.0 L360.0 453.1 L360.5 452.3 L361.0 451.6 L361.5 450.9 L362.0 450.2 L362.5 449.4 L363.0 448.5 L363.5 447.4 L364.0 446.0 L364.5 444.4 L365.0 442.6 L365.5 440.7 L366.0 438.8 L366.5 436.8 L367.0 435.0 L367.5 432.9 L368.0 430.6 L368.5 428.5 L369.0 427.1 L369.5 427.0 L370.0 427.9 L370.5 429.0 L371.0 430.3 L371.5 431.7 L372.0 433.0 L372.5 434.2 L373.0 435.5 L373.5 436.8 L374.0 438.0 L374.5 439.3 L375.0 440.5 L375.5 441.8 L376.0 443.0 L376.5 443.7 L377.0 443.5 L377.5 442.9 L378.0 442.2 L378.5 441.8 L379.0 442.0 L379.5 443.0 L380.0 444.5 L380.5 446.0 L381.0 447.0 L381.5 447.6 L382.0 448.0 L382.5 448.0 L383.0 447.5 L383.5 446.6 L384.0 445.6 L384.5 444.4 L385.0 443.0 L385.5 441.6 L386.0 440.0 L386.5 438.4 L387.0 436.6 L387.5 434.8 L388.0 432.9 L388.5 431.0 L389.0 429.0 L389.5 426.6 L390.0 423.6 L390.5 420.6 L391.0 418.0 L391.5 416.2 L392.0 415.5 L392.5 416.5 L393.0 418.6 L393.5 421.2 L394.0 424.0 L394.5 427.0 L395.0 430.0 L395.5 433.0 L396.0 436.0 L396.5 439.0 L397.0 442.0 L397.5 445.0 L398.0 448.0 L398.5 451.0 L399.0 453.6 L399.5 455.7 L400.0 457.4 L400.5 459.0 L401.0 460.7 L401.5 462.3 L402.0 463.8 L402.5 465.3 L403.0 466.7 L403.5 468.0" fill="none" stroke="#000" stroke-width="1.0" stroke-linejoin="round" shape-rendering="crispEdges" />
<path d="M300.5 445.0 L301.0 443.5 L301.5 442.0 L302.0 440.4 L302.5 438.7 L303.0 437.0 L303.5 435.2 L304.0 433.2 L304.5 431.0 L305.0 428.9 L305.5 426.9 L306.0 425.0 L306.5 423.6 L307.0 422.8 L307.5 422.5 L308.0 422.5 L308.5 422.8 L309.0 423.9 L309.5 426.0 L310.0 428.9 L310.5 432.0 L311.0 435.2 L311.5 438.5 L312.0 441.7 L312.5 444.9 L313.0 448.0 L313.5 450.9 L314.0 453.8 L314.5 456.6 L315.0 459.3 L315.5 461.9 L316.0 464.5 L316.5 467.0 L317.0 468.2 L317.5 467.0 L318.0 464.2 L318.5 460.5 L319.0 456.0 L319.5 451.0 L320.0 445.3 L320.5 438.8 L321.0 432.1 L321.5 425.6 L322.0 420.0 L322.5 415.5 L323.0 412.1 L323.5 409.9 L324.0 409.0 L324.5 409.4 L325.0 411.0 L325.5 414.0 L326.0 418.0 L326.5 422.3 L327.0 426.8 L327.5 431.1 L328.0 435.0 L328.5 438.6 L329.0 442.1 L329.5 445.3 L330.0 448.0 L330.5 450.0 L331.0 451.3 L331.5 452.0 L332.0 452.4 L332.5 452.5 L333.0 452.6 L333.5 452.7 L334.0 452.4 L334.5 451.5 L335.0 450.1 L335.5 448.5 L336.0 446.7 L336.5 445.0 L337.0 443.2 L337.5 441.5 L338.0 440.0 L338.5 438.6 L339.0 437.1 L339.5 435.7 L340.0 434.3 L340.5 432.9 L341.0 431.6 L341.5 430.3 L342.0 429.0 L342.5 427.8 L343.0 426.9 L343.5 426.0 L344.0 425.3 L344.5 424.7 L345.0 424.0 L345.5 423.5 L346.0 423.2 L346.5 423.1 L347.0 423.1 L347.5 423.4 L348.0 423.8 L348.5 424.3 L349.0 425.0 L349.5 426.2 L350.0 428.4 L350.5 431.4 L351.0 435.0 L351.5 439.8 L352.0 445.9 L352.5 452.0 L353.0 457.0 L353.5 460.7 L354.0 463.4 L354.5 464.5 L355.0 464.4 L355.5 463.6 L356.0 462.0 L356.5 459.9 L357.0 457.8 L357.5 455.7 L358.0 453.5 L358.5 451.3 L359.0 449.0 L359.5 446.6 L360.0 443.9 L360.5 441.1 L361.0 438.3 L361.5 435.6 L362.0 433.1 L362.5 430.9 L363.0 429.0 L363.5 427.6 L364.0 426.7 L364.5 426.1 L365.0 425.7 L365.5 425.4 L366.0 425.0 L366.5 424.6 L367.0 424.2 L367.5 423.9 L368.0 423.6 L368.5 423.5 L369.0 423.6 L369.5 424.2 L370.0 425.3 L370.5 426.9 L371.0 429.0 L371.5 431.7 L372.0 434.8 L372.5 438.1 L373.0 441.6 L373.5 444.9 L374.0 448.0 L374.5 451.2 L375.0 454.4 L375.5 456.7 L376.0 457.5 L376.5 456.7 L377.0 455.1 L377.5 453.0 L378.0 451.0 L378.5 449.0 L379.0 446.9 L379.5 444.8 L380.0 442.7 L380.5 440.7 L381.0 439.0 L381.5 437.4 L382.0 436.0 L382.5 434.6 L383.0 433.3 L383.5 432.0 L384.0 430.8 L384.5 429.6 L385.0 428.4 L385.5 427.2 L386.0 426.0 L386.5 424.8 L387.0 423.7 L387.5 422.6 L388.0 421.7 L388.5 420.7 L389.0 419.8 L389.5 419.0 L390.0 418.9 L390.5 420.4 L391.0 424.0 L391.5 429.2 L392.0 435.2 L392.5 441.5 L393.0 448.0 L393.5 455.0 L394.0 462.3 L394.5 469.0 L395.0 472.6 L395.5 473.0 L396.0 472.2 L396.5 470.3 L397.0 467.0 L397.5 461.9 L398.0 456.0 L398.5 451.0 L399.0 447.1 L399.5 443.6 L400.0 440.5 L400.5 438.0" fill="none" stroke="#bb0a24" stroke-width="1.0" stroke-linejoin="round" shape-rendering="crispEdges" />
</g>
<rect x="300.5" y="390.4" width="100.0" height="100.0" fill="none" stroke="#000" stroke-width="2.5"/>
<path d="M318.7 389.1 V385.7 M318.7 491.7 V494.1 M338.7 389.1 V385.7 M338.7 491.7 V494.1 M358.7 389.1 V381.9 M358.7 491.7 V496.5 M378.7 389.1 V385.7 M378.7 491.7 V494.1 M398.7 389.1 V385.7 M398.7 491.7 V494.1 M299.2 440.4 H292.3 M401.8 440.4 H407.3" stroke="#000" stroke-width="1" shape-rendering="crispEdges"/>
<text x="358.3" y="518.7" font-family='"Liberation Sans", sans-serif' font-size="18.06" text-anchor="middle">1560</text>
<clipPath id="cm1"><rect x="420.5" y="390.4" width="100" height="100"/></clipPath>
<g clip-path="url(#cm1)">
<path d="M417.1 443.0 L417.6 441.2 L418.1 439.2 L418.6 437.1 L419.1 435.0 L419.6 432.6 L420.1 429.8 L420.6 427.0 L421.1 424.3 L421.6 422.0 L422.1 420.5 L422.6 419.7 L423.1 419.3 L423.6 419.0 L424.1 418.5 L424.6 417.5 L425.1 415.7 L425.6 413.5 L426.1 411.2 L426.6 409.5 L427.1 408.8 L427.6 409.1 L428.1 410.1 L428.6 411.6 L429.1 414.0 L429.6 418.0 L430.1 423.0 L430.6 428.0 L431.1 433.0 L431.6 438.0 L432.1 443.0 L432.6 448.0 L433.1 453.0 L433.6 458.0 L434.1 462.6 L434.6 466.6 L435.1 470.0 L435.6 472.4 L436.1 473.6 L436.6 473.8 L437.1 473.5 L437.6 472.9 L438.1 471.8 L438.6 470.0 L439.1 467.0 L439.6 463.1 L440.1 459.1 L440.6 454.9 L441.1 451.0 L441.6 447.2 L442.1 443.6 L442.6 439.9 L443.1 436.4 L443.6 433.0 L444.1 430.1 L444.6 428.1 L445.1 426.9 L445.6 426.5 L446.1 427.0 L446.6 428.3 L447.1 430.0 L447.6 432.2 L448.1 435.0 L448.6 438.0 L449.1 440.9 L449.6 443.4 L450.1 445.0 L450.6 445.1 L451.1 444.0 L451.6 442.3 L452.1 439.8 L452.6 437.1 L453.1 434.5 L453.6 432.5 L454.1 431.5 L454.6 431.9 L455.1 433.4 L455.6 435.6 L456.1 437.9 L456.6 439.7 L457.1 440.5 L457.6 440.7 L458.1 440.7 L458.6 440.3 L459.1 439.5 L459.6 438.3 L460.1 436.9 L460.6 435.5 L461.1 434.1 L461.6 432.7 L462.1 431.3 L462.6 430.0 L463.1 428.8 L463.6 427.6 L464.1 426.5 L464.6 425.5 L465.1 424.6 L465.6 423.7 L466.1 423.0 L466.6 423.0 L467.1 424.3 L467.6 427.0 L468.1 430.6 L468.6 434.4 L469.1 438.3 L469.6 442.0 L470.1 445.4 L470.6 448.8 L471.1 452.0 L471.6 455.0 L472.1 457.7 L472.6 459.6 L473.1 460.7 L473.6 460.5 L474.1 459.5 L474.6 458.1 L475.1 456.6 L475.6 455.2 L476.1 454.0 L476.6 453.1 L477.1 452.3 L477.6 451.6 L478.1 450.9 L478.6 450.2 L479.1 449.4 L479.6 448.5 L480.1 447.4 L480.6 446.0 L481.1 444.4 L481.6 442.6 L482.1 440.7 L482.6 438.8 L483.1 436.8 L483.6 435.0 L484.1 432.9 L484.6 430.6 L485.1 428.5 L485.6 427.1 L486.1 427.0 L486.6 427.9 L487.1 429.0 L487.6 430.3 L488.1 431.7 L488.6 433.0 L489.1 434.2 L489.6 435.5 L490.1 436.8 L490.6 438.0 L491.1 439.3 L491.6 440.5 L492.1 441.8 L492.6 443.0 L493.1 443.7 L493.6 443.5 L494.1 442.9 L494.6 442.2 L495.1 441.8 L495.6 442.0 L496.1 443.0 L496.6 444.5 L497.1 446.0 L497.6 447.0 L498.1 447.6 L498.6 448.0 L499.1 448.0 L499.6 447.5 L500.1 446.6 L500.6 445.6 L501.1 444.4 L501.6 443.0 L502.1 441.6 L502.6 440.0 L503.1 438.4 L503.6 436.6 L504.1 434.8 L504.6 432.9 L505.1 431.0 L505.6 429.0 L506.1 426.6 L506.6 423.6 L507.1 420.6 L507.6 418.0 L508.1 416.2 L508.6 415.5 L509.1 416.5 L509.6 418.6 L510.1 421.2 L510.6 424.0 L511.1 427.0 L511.6 430.0 L512.1 433.0 L512.6 436.0 L513.1 439.0 L513.6 442.0 L514.1 445.0 L514.6 448.0 L515.1 451.0 L515.6 453.6 L516.1 455.7 L516.6 457.4 L517.1 459.0 L517.6 460.7 L518.1 462.3 L518.6 463.8 L519.1 465.3 L519.6 466.7 L520.1 468.0" fill="none" stroke="#000" stroke-width="1.0" stroke-linejoin="round" shape-rendering="crispEdges" />
<path d="M420.5 445.0 L421.0 443.5 L421.5 442.0 L422.0 440.4 L422.5 438.7 L423.0 437.0 L423.5 435.2 L424.0 433.2 L424.5 431.0 L425.0 428.9 L425.5 426.9 L426.0 425.0 L426.5 423.6 L427.0 422.8 L427.5 422.5 L428.0 422.5 L428.5 422.8 L429.0 423.9 L429.5 426.0 L430.0 428.9 L430.5 432.0 L431.0 435.2 L431.5 438.5 L432.0 441.7 L432.5 444.9 L433.0 448.0 L433.5 450.9 L434.0 453.8 L434.5 456.6 L435.0 459.3 L435.5 461.9 L436.0 464.5 L436.5 467.0 L437.0 468.2 L437.5 467.0 L438.0 464.2 L438.5 460.5 L439.0 456.0 L439.5 451.0 L440.0 445.3 L440.5 438.8 L441.0 432.1 L441.5 425.6 L442.0 420.0 L442.5 415.5 L443.0 412.1 L443.5 409.9 L444.0 409.0 L444.5 409.4 L445.0 411.0 L445.5 414.0 L446.0 418.0 L446.5 422.3 L447.0 426.8 L447.5 431.1 L448.0 435.0 L448.5 438.6 L449.0 442.1 L449.5 445.3 L450.0 448.0 L450.5 450.0 L451.0 451.3 L451.5 452.0 L452.0 452.4 L452.5 452.5 L453.0 452.6 L453.5 452.7 L454.0 452.4 L454.5 451.5 L455.0 450.1 L455.5 448.5 L456.0 446.7 L456.5 445.0 L457.0 443.2 L457.5 441.5 L458.0 440.0 L458.5 438.6 L459.0 437.1 L459.5 435.7 L460.0 434.3 L460.5 432.9 L461.0 431.6 L461.5 430.3 L462.0 429.0 L462.5 427.8 L463.0 426.9 L463.5 426.0 L464.0 425.3 L464.5 424.7 L465.0 424.0 L465.5 423.5 L466.0 423.2 L466.5 423.1 L467.0 423.1 L467.5 423.4 L468.0 423.8 L468.5 424.3 L469.0 425.0 L469.5 426.2 L470.0 428.4 L470.5 431.4 L471.0 435.0 L471.5 439.8 L472.0 445.9 L472.5 452.0 L473.0 457.0 L473.5 460.7 L474.0 463.4 L474.5 464.5 L475.0 464.4 L475.5 463.6 L476.0 462.0 L476.5 459.9 L477.0 457.8 L477.5 455.7 L478.0 453.5 L478.5 451.3 L479.0 449.0 L479.5 446.6 L480.0 443.9 L480.5 441.1 L481.0 438.3 L481.5 435.6 L482.0 433.1 L482.5 430.9 L483.0 429.0 L483.5 427.6 L484.0 426.7 L484.5 426.1 L485.0 425.7 L485.5 425.4 L486.0 425.0 L486.5 424.6 L487.0 424.2 L487.5 423.9 L488.0 423.6 L488.5 423.5 L489.0 423.6 L489.5 424.2 L490.0 425.3 L490.5 426.9 L491.0 429.0 L491.5 431.7 L492.0 434.8 L492.5 438.1 L493.0 441.6 L493.5 444.9 L494.0 448.0 L494.5 451.2 L495.0 454.4 L495.5 456.7 L496.0 457.5 L496.5 456.7 L497.0 455.1 L497.5 453.0 L498.0 451.0 L498.5 449.0 L499.0 446.9 L499.5 444.8 L500.0 442.7 L500.5 440.7 L501.0 439.0 L501.5 437.4 L502.0 436.0 L502.5 434.6 L503.0 433.3 L503.5 432.0 L504.0 430.8 L504.5 429.6 L505.0 428.4 L505.5 427.2 L506.0 426.0 L506.5 424.8 L507.0 423.7 L507.5 422.6 L508.0 421.7 L508.5 420.7 L509.0 419.8 L509.5 419.0 L510.0 418.9 L510.5 420.4 L511.0 424.0 L511.5 429.2 L512.0 435.2 L512.5 441.5 L513.0 448.0 L513.5 455.0 L514.0 462.3 L514.5 469.0 L515.0 472.6 L515.5 473.0 L516.0 472.2 L516.5 470.3 L517.0 467.0 L517.5 461.9 L518.0 456.0 L518.5 451.0 L519.0 447.1 L519.5 443.6 L520.0 440.5 L520.5 438.0" fill="none" stroke="#bb0a24" stroke-width="1.0" stroke-linejoin="round" shape-rendering="crispEdges" />
</g>
<rect x="420.5" y="390.4" width="100.0" height="100.0" fill="none" stroke="#000" stroke-width="2.5"/>
<path d="M438.7 389.1 V385.7 M438.7 491.7 V494.1 M458.7 389.1 V385.7 M458.7 491.7 V494.1 M478.7 389.1 V381.9 M478.7 491.7 V496.5 M498.7 389.1 V385.7 M498.7 491.7 V494.1 M518.7 389.1 V385.7 M518.7 491.7 V494.1 M419.2 440.4 H412.3 M521.8 440.4 H527.3" stroke="#000" stroke-width="1" shape-rendering="crispEdges"/>
<text x="478.3" y="518.7" font-family='"Liberation Sans", sans-serif' font-size="18.06" text-anchor="middle">1560</text>
<clipPath id="cp0"><rect x="300.5" y="530.4" width="100" height="100"/></clipPath>
<g clip-path="url(#cp0)">
<path d="M348.1 614.9 L347.5 614.3 L346.8 613.4 L345.9 612.4 L344.9 611.3 L343.9 610.2 L342.9 609.1 L341.9 608.1 L341.0 607.2 L340.0 606.2 L338.9 605.2 L337.7 604.3 L336.4 603.3 L334.9 602.3 L333.3 601.4 L331.6 600.4 L329.8 599.4 L327.9 598.4 L326.1 597.5 L324.1 596.5 L322.1 595.5 L320.1 594.6 L318.1 593.6 L316.1 592.6 L314.4 591.6 L312.9 590.7 L311.4 589.7 L310.1 588.7 L308.9 587.8 L307.7 586.8 L306.6 585.8 L305.6 584.9 L304.5 583.9 L303.6 582.9 L302.7 581.9 L302.0 581.0 L301.5 580.0 L301.1 579.0 L301.0 578.1 L301.0 577.1 L301.0 576.2 L301.1 575.2 L301.2 574.2 L301.3 573.1 L301.3 572.1 L301.4 571.0 L301.5 569.9 L301.7 568.8 L302.1 567.7 L302.6 566.6 L303.3 565.5 L304.0 564.4 L304.9 563.3 L305.7 562.3 L306.6 561.2 L307.6 560.2 L308.6 559.2 L309.6 558.2 L310.7 557.3 L311.9 556.3 L313.1 555.4 L314.5 554.5 L315.9 553.6 L317.4 552.7 L319.0 551.8 L320.6 551.0 L322.2 550.2 L323.8 549.5 L325.5 548.8 L327.3 548.1 L329.0 547.5 L330.8 546.9 L332.5 546.4 L334.3 545.9 L336.0 545.5 L337.7 545.2 L339.4 544.9 L341.2 544.6 L342.9 544.4 L344.6 544.3 L346.3 544.2 L348.1 544.1 L349.8 544.1 L351.5 544.1 L353.2 544.2 L355.0 544.2 L356.7 544.3 L358.5 544.3 L360.2 544.5 L361.9 544.7 L363.6 545.1 L365.2 545.5 L366.8 546.1 L368.4 546.7 L369.9 547.4 L371.3 548.1 L372.6 548.9 L373.8 549.8 L375.0 550.7 L376.0 551.7 L376.9 552.7 L377.7 553.7 L378.5 554.8 L379.1 555.8 L379.7 556.9 L380.2 558.0 L380.6 559.1 L380.9 560.2 L381.1 561.2 L381.2 562.3 L381.2 563.4 L381.1 564.5 L380.9 565.6 L380.7 566.7 L380.4 567.7 L380.1 568.7 L379.8 569.7 L379.4 570.7 L379.0 571.6 L378.4 572.6 L377.8 573.5 L377.1 574.5 L376.3 575.4 L375.4 576.4 L374.5 577.4 L373.5 578.3 L372.6 579.4 L371.8 580.4 L371.0 581.5 L370.1 582.7 L369.3 583.8 L368.4 584.9 L367.5 585.8 L366.5 586.7 L365.5 587.5 L364.5 588.2 L363.4 588.9 L362.2 589.6 L361.0 590.4 L359.6 591.1 L358.1 591.9 L356.6 592.7 L355.0 593.5 L353.4 594.2 L351.9 594.9 L350.6 595.5 L349.3 596.0 L348.0 596.5 L346.7 596.9 L345.5 597.5 L344.2 598.1 L342.9 598.9 L341.5 599.7 L340.2 600.6 L338.9 601.5 L337.6 602.4 L336.4 603.3 L335.3 604.1 L334.2 604.9 L333.1 605.7 L332.1 606.5 L331.0 607.2 L329.9 607.8 L328.9 608.4 L327.8 609.0 L326.7 609.6 L325.6 610.0 L324.5 610.3 L323.5 610.4 L322.4 610.3 L321.4 610.1 L320.4 609.7 L319.4 609.2 L318.5 608.5 L317.6 607.8 L316.9 607.0 L316.1 606.0 L315.4 604.8 L314.7 603.7 L314.2 602.5 L313.8 601.4 L313.4 600.3 L313.2 599.2 L313.0 598.1 L313.0 597.0 L313.0 596.0 L313.1 594.9 L313.3 593.9 L313.6 592.9 L314.0 591.9 L314.5 590.9 L315.1 589.7 L315.7 588.4 L316.4 586.9 L317.2 585.3 L318.1 583.5 L319.1 581.7 L320.0 579.8 L320.9 578.1 L321.7 576.3 L322.6 574.6 L323.5 572.9 L324.3 571.2 L325.2 569.4 L326.1 567.7 L326.9 566.0 L327.8 564.2 L328.6 562.4 L329.5 560.7 L330.4 559.0 L331.2 557.4 L332.1 555.7 L333.0 554.1 L333.8 552.6 L334.7 551.1 L335.6 549.6 L336.4 548.3 L337.3 547.1 L338.1 545.9 L338.9 544.8 L339.8 543.8 L340.7 542.8 L341.6 541.8 L342.6 540.9 L343.6 539.9 L344.7 539.0 L345.8 538.2 L346.9 537.4 L348.1 536.6 L349.3 536.0 L350.5 535.3 L351.8 534.7 L353.1 534.2 L354.4 533.7 L355.8 533.4 L357.3 533.2 L358.8 533.1 L360.4 533.0 L361.9 533.1 L363.4 533.2 L364.9 533.4 L366.3 533.7 L367.7 534.2 L369.1 534.7 L370.4 535.3 L371.6 536.0 L372.6 536.6 L373.6 537.4 L374.4 538.3 L375.1 539.2 L375.7 540.1 L376.2 541.0 L376.5 541.8 L376.8 542.6 L377.0 543.5 L377.0 544.3 L377.0 545.0 L376.8 545.7 L376.5 546.4 L376.1 546.9 L375.6 547.4 L375.0 547.8 L374.3 548.2 L373.5 548.5 L372.6 548.9 L371.7 549.4 L370.6 549.8 L369.5 550.2 L368.3 550.6 L367.2 551.0 L366.2 551.5 L365.2 552.1 L364.3 552.7 L363.3 553.3 L362.5 553.9 L361.7 554.6 L361.0 555.4 L360.4 556.3 L359.9 557.2 L359.5 558.2 L359.2 559.3 L358.8 560.3 L358.4 561.2 L358.0 562.1 L357.6 563.0 L357.2 563.8 L356.7 564.6 L356.3 565.5 L355.8 566.4 L355.3 567.4 L354.7 568.5 L354.0 569.6 L353.4 570.8 L352.9 571.9 L352.6 572.9 L352.5 573.9 L352.4 574.8 L352.5 575.7 L352.7 576.6 L353.0 577.4 L353.2 578.1 L353.5 578.7 L353.8 579.3 L354.2 579.8 L354.6 580.2 L355.1 580.5 L355.8 580.6 L356.7 580.6 L357.7 580.4 L358.8 580.0 L360.0 579.6 L361.2 579.1 L362.3 578.7 L363.4 578.3 L364.5 578.0 L365.7 577.6 L366.8 577.1 L367.8 576.7 L368.8 576.1 L369.6 575.5 L370.3 574.8 L371.0 574.0 L371.6 573.2 L372.1 572.4 L372.6 571.6 L373.1 570.7 L373.5 569.9 L373.9 569.0 L374.2 568.1 L374.4 567.2 L374.6 566.4 L374.7 565.7 L374.6 565.0 L374.6 564.3 L374.4 563.7 L374.2 563.1 L373.9 562.5 L373.7 562.0 L373.3 561.5 L372.9 561.0 L372.5 560.6 L372.0 560.3 L371.4 560.2 L370.7 560.2 L369.9 560.4 L369.0 560.7 L368.1 561.1 L367.1 561.5 L366.2 561.9 L365.2 562.3 L364.1 562.8 L363.0 563.4 L361.9 563.9 L360.8 564.5 L359.7 565.1 L358.6 565.8 L357.5 566.5 L356.4 567.2 L355.3 567.9 L354.2 568.5 L353.2 569.0 L352.3 569.4 L351.4 569.8 L350.5 570.1 L349.7 570.2 L348.9 570.3 L348.1 570.3 L347.3 570.0 L346.5 569.6 L345.8 569.0 L345.0 568.4 L344.3 567.9 L343.5 567.7 L342.8 567.7 L342.0 567.9 L341.2 568.2 L340.5 568.5 L339.7 569.0 L339.0 569.6 L338.3 570.4 L337.6 571.3 L336.9 572.3 L336.2 573.3 L335.6 574.4 L335.1 575.5 L334.7 576.5 L334.3 577.6 L333.9 578.7 L333.7 579.8 L333.4 580.9 L333.2 581.9 L333.0 583.1 L332.8 584.3 L332.7 585.6 L332.7 586.7 L332.6 587.7 L332.5 588.4" fill="none" stroke="#000" stroke-width="1" stroke-linejoin="round" shape-rendering="crispEdges" />
<path d="M324.1 584.5 L324.6 583.8 L325.3 582.9 L326.1 581.8 L326.9 580.6 L327.8 579.3 L328.6 578.1 L329.5 576.8 L330.3 575.5 L331.2 574.2 L332.1 572.8 L333.0 571.5 L333.8 570.3 L334.7 569.1 L335.5 567.9 L336.3 566.8 L337.1 565.7 L338.0 564.7 L339.0 563.8 L340.1 563.1 L341.4 562.5 L342.6 562.0 L344.0 561.5 L345.4 561.1 L346.8 560.6 L348.2 560.1 L349.7 559.7 L351.2 559.3 L352.8 558.8 L354.3 558.4 L355.8 558.0 L357.4 557.5 L358.9 557.0 L360.5 556.5 L362.1 556.1 L363.5 555.7 L364.9 555.4 L366.2 555.2 L367.4 555.1 L368.5 555.0 L369.6 555.0 L370.5 555.2 L371.4 555.4 L372.1 555.8 L372.6 556.3 L373.1 557.0 L373.5 557.7 L373.8 558.5 L373.9 559.3 L374.0 560.1 L373.9 560.9 L373.7 561.7 L373.4 562.7 L373.1 563.8 L372.6 565.1 L372.1 566.8 L371.4 568.8 L370.6 570.9 L369.8 573.1 L369.2 575.1 L368.8 576.8 L368.7 578.1 L368.8 579.3 L369.1 580.3 L369.4 581.3 L369.6 582.2 L369.4 583.2 L369.0 584.4 L368.5 585.5 L367.8 586.7 L366.9 587.8 L366.0 588.9 L364.9 589.7 L363.6 590.5 L362.1 591.1 L360.4 591.7 L358.7 592.2 L357.2 592.4 L355.8 592.3 L354.8 591.9 L353.9 591.1 L353.1 590.2 L352.3 589.1 L351.5 588.1 L350.6 587.1 L349.6 586.2 L348.6 585.3 L347.5 584.3 L346.4 583.4 L345.3 582.6 L344.2 581.9 L343.1 581.5 L342.1 581.1 L341.0 580.8 L340.0 580.6 L338.9 580.6 L337.7 580.6 L336.5 580.9 L335.1 581.3 L333.8 581.8 L332.4 582.3 L331.1 582.8 L329.9 583.2 L328.8 583.5 L327.6 583.8 L326.5 584.0 L325.6 584.2 L324.7 584.4 L324.1 584.5" fill="none" stroke="#000" stroke-width="1" stroke-linejoin="round" shape-rendering="crispEdges" />
<path d="M373.9 569.0 L374.9 569.7 L376.3 570.5 L378.0 571.6 L379.7 572.8 L381.5 574.1 L383.0 575.5 L384.4 577.0 L385.8 578.6 L387.1 580.4 L388.4 582.2 L389.6 584.1 L390.8 585.8 L391.8 587.6 L392.8 589.3 L393.7 591.1 L394.6 592.8 L395.3 594.5 L395.9 596.2 L396.5 597.8 L397.0 599.3 L397.4 600.9 L397.7 602.4 L397.9 603.8 L397.9 605.2 L397.7 606.6 L397.3 608.0 L396.8 609.3 L396.2 610.6 L395.4 611.8 L394.7 613.0 L393.8 614.2 L392.9 615.3 L391.9 616.4 L390.7 617.5 L389.5 618.5 L388.2 619.5 L386.7 620.4 L385.1 621.4 L383.4 622.3 L381.6 623.1 L379.7 623.9 L377.8 624.7 L375.8 625.3 L373.8 625.9 L371.7 626.5 L369.5 627.0 L367.2 627.5 L364.9 627.9 L362.4 628.3 L359.9 628.7 L357.3 629.0 L354.6 629.3 L352.0 629.5 L349.4 629.6 L346.7 629.6 L344.1 629.5 L341.4 629.3 L338.8 629.1 L336.3 628.8 L333.8 628.5 L331.5 628.2 L329.2 627.9 L326.9 627.5 L324.8 627.1 L322.8 626.6 L320.9 625.9 L319.1 625.2 L317.4 624.3 L315.8 623.3 L314.3 622.3 L313.0 621.2 L311.8 620.1 L310.8 619.0 L310.0 617.8 L309.4 616.6 L308.8 615.4 L308.3 614.2 L307.9 613.0 L307.6 611.9 L307.4 610.8 L307.3 609.7 L307.2 608.7 L307.2 607.6 L307.3 606.5 L307.4 605.5 L307.6 604.4 L307.9 603.4 L308.3 602.4 L308.7 601.3 L309.2 600.1 L309.9 598.8 L310.7 597.4 L311.5 596.1 L312.5 594.6 L313.4 593.1 L314.4 591.6 L315.4 590.1 L316.4 588.5 L317.5 586.9 L318.6 585.3 L319.7 583.6 L320.9 581.9 L322.1 580.2 L323.4 578.4 L324.7 576.6 L326.0 574.9 L327.3 573.2 L328.6 571.6 L329.9 570.1 L331.1 568.7 L332.4 567.3 L333.6 566.0 L335.0 564.9 L336.4 563.8 L338.0 562.9 L339.7 562.1 L341.4 561.4 L343.2 560.8 L345.0 560.3 L346.8 559.9 L348.5 559.7 L350.3 559.5 L352.0 559.5 L353.8 559.5 L355.5 559.7 L357.1 559.9 L358.7 560.3 L360.3 560.9 L361.8 561.6 L363.3 562.3 L364.8 563.1 L366.2 563.8 L367.6 564.7 L369.2 565.6 L370.6 566.7 L372.0 567.6 L373.1 568.4 L373.9 569.0" fill="none" stroke="#000" stroke-width="1" stroke-linejoin="round" shape-rendering="crispEdges" />
<path d="M342.9 590.4 L342.8 589.9 L342.6 589.2 L342.4 588.4 L342.2 587.6 L342.1 586.7 L342.2 585.8 L342.5 585.0 L343.0 584.2 L343.6 583.4 L344.2 582.5 L344.9 581.6 L345.5 580.6 L346.1 579.6 L346.7 578.5 L347.4 577.4 L348.1 576.3 L348.7 575.2 L349.4 574.2 L350.0 573.2 L350.6 572.2 L351.2 571.2 L351.8 570.3 L352.2 569.5 L352.6 569.0" fill="none" stroke="#000" stroke-width="1" stroke-linejoin="round" shape-rendering="crispEdges" />
</g>
<rect x="300.5" y="530.4" width="100.0" height="100.0" fill="none" stroke="#000" stroke-width="2.5"/>
<path d="M350.5 529.1 V521.9 M350.5 631.7 V636.7 M299.2 580.4 H292.2 M401.8 580.4 H407.5" stroke="#000" stroke-width="1" shape-rendering="crispEdges"/>
<clipPath id="cp1"><rect x="420.5" y="530.4" width="100" height="100"/></clipPath>
<g clip-path="url(#cp1)">
<path d="M462.2 570.3 L462.2 569.5 L462.0 568.3 L461.9 566.9 L461.8 565.4 L461.8 563.9 L461.8 562.5 L462.0 561.2 L462.3 559.8 L462.7 558.4 L463.1 557.1 L463.6 555.9 L464.2 554.8 L464.8 553.8 L465.6 552.9 L466.4 552.2 L467.3 551.5 L468.3 550.8 L469.4 550.2 L470.5 549.7 L471.8 549.3 L473.2 548.9 L474.5 548.6 L475.9 548.2 L477.1 547.6 L478.3 547.0 L479.4 546.3 L480.5 545.6 L481.6 544.8 L482.6 544.0 L483.6 543.1 L484.5 542.2 L485.4 541.2 L486.3 540.2 L487.1 539.1 L487.9 538.2 L488.8 537.3 L489.7 536.5 L490.6 535.7 L491.5 534.9 L492.4 534.3 L493.2 533.7 L493.9 533.4 L494.6 533.3 L495.2 533.2 L495.7 533.4 L496.2 533.7 L496.5 534.1 L496.8 534.7 L497.0 535.5 L497.0 536.6 L497.0 537.8 L496.9 539.1 L496.7 540.5 L496.5 541.8 L496.3 543.2 L495.9 544.7 L495.5 546.2 L495.0 547.8 L494.5 549.4 L493.9 550.9 L493.4 552.4 L492.8 554.0 L492.2 555.5 L491.5 557.0 L490.8 558.5 L490.1 559.9 L489.3 561.3 L488.5 562.7 L487.7 564.0 L486.9 565.3 L485.9 566.5 L484.9 567.7 L483.7 568.9 L482.5 570.1 L481.2 571.2 L479.8 572.3 L478.4 573.3 L477.1 574.2 L475.8 575.0 L474.5 575.7 L473.2 576.4 L471.8 577.0 L470.6 577.6 L469.4 578.1 L468.2 578.5 L467.0 579.0 L465.9 579.4 L464.8 579.7 L463.8 579.9 L462.9 580.0 L462.0 579.9 L461.2 579.8 L460.5 579.5 L459.7 579.1 L459.0 578.6 L458.4 578.1 L457.6 577.4 L456.9 576.6 L456.3 575.6 L455.6 574.7 L455.0 573.7 L454.5 572.9 L454.0 572.0 L453.7 571.1 L453.4 570.2 L453.1 569.4 L452.8 568.7 L452.5 568.4 L452.2 568.3 L451.9 568.4 L451.7 568.6 L451.4 569.1 L451.2 569.6 L451.0 570.3 L450.8 571.1 L450.7 572.1 L450.6 573.2 L450.6 574.4 L450.6 575.6 L450.6 576.8 L450.6 577.9 L450.7 579.0 L450.7 580.2 L450.8 581.3 L451.0 582.3 L451.2 583.2 L451.5 584.1 L451.9 584.9 L452.2 585.7 L452.7 586.3 L453.2 586.8 L453.8 587.1 L454.5 587.2 L455.3 587.2 L456.1 587.0 L457.0 586.6 L458.0 586.3 L459.0 585.8 L460.1 585.4 L461.4 584.8 L462.7 584.2 L464.1 583.5 L465.4 582.8 L466.8 581.9 L468.1 581.0 L469.4 580.0 L470.6 579.0 L471.9 577.8 L473.2 576.7 L474.5 575.5 L475.8 574.2 L477.2 572.9 L478.5 571.5 L479.8 570.2 L481.1 568.9 L482.3 567.7 L483.5 566.7 L484.6 565.8 L485.7 565.0 L486.8 564.3 L487.8 563.4 L488.8 562.5 L489.7 561.5 L490.6 560.5 L491.5 559.4 L492.4 558.3 L493.2 557.2 L493.9 556.1 L494.7 555.0 L495.3 553.9 L496.0 552.7 L496.6 551.7 L497.2 550.6 L497.8 549.6 L498.5 548.5 L499.2 547.4 L499.9 546.3 L500.6 545.3 L501.1 544.7 L501.5 544.4 L501.6 544.6 L501.6 545.3 L501.5 546.2 L501.2 547.3 L500.9 548.5 L500.4 549.6 L499.8 550.7 L499.0 552.0 L498.2 553.3 L497.2 554.7 L496.2 556.0 L495.2 557.4 L494.3 558.6 L493.3 559.9 L492.2 561.2 L491.2 562.5 L490.0 563.8 L488.8 565.1 L487.4 566.4 L485.9 567.7 L484.4 569.0 L482.8 570.3 L481.2 571.6 L479.7 572.9 L478.2 574.2 L476.7 575.6 L475.3 576.9 L473.8 578.3 L472.2 579.5 L470.6 580.6 L469.0 581.7 L467.2 582.8 L465.5 583.8 L463.7 584.7 L462.0 585.4 L460.3 585.8 L458.7 586.0 L457.1 585.9 L455.6 585.7 L454.1 585.3 L452.7 584.9 L451.2 584.5 L449.7 584.1 L448.2 583.5 L446.6 582.9 L445.2 582.3 L444.2 582.0 L443.5 581.9 L443.3 582.3 L443.4 582.9 L443.9 583.8 L444.5 584.7 L445.3 585.7 L446.1 586.5 L446.9 587.2 L447.8 587.9 L448.9 588.7 L450.0 589.3 L451.3 589.9 L452.5 590.4 L453.9 590.7 L455.4 591.0 L456.9 591.2 L458.5 591.2 L460.1 591.2 L461.6 591.0 L463.1 590.7 L464.6 590.2 L466.1 589.6 L467.6 588.9 L469.1 588.0 L470.6 587.1 L472.2 586.1 L473.7 584.8 L475.3 583.5 L476.8 582.1 L478.3 580.7 L479.7 579.4 L481.1 578.1 L482.5 576.8 L483.8 575.5 L485.1 574.2 L486.3 572.9 L487.5 571.6 L488.5 570.3 L489.5 569.0 L490.5 567.7 L491.3 566.4 L492.0 565.1 L492.6 563.8 L493.1 562.4 L493.4 560.9 L493.6 559.5 L493.8 558.1 L493.8 556.9 L493.9 556.1" fill="none" stroke="#000" stroke-width="1" stroke-linejoin="round" shape-rendering="crispEdges" />
<path d="M421.5 600.1 L422.9 599.3 L424.8 598.3 L427.1 597.1 L429.6 595.9 L432.1 594.7 L434.4 593.6 L436.5 592.7 L438.6 591.8 L440.7 591.0 L442.8 590.2 L445.0 589.3 L447.4 588.4 L449.8 587.4 L452.4 586.4 L455.1 585.3 L457.8 584.2 L460.4 583.1 L462.9 581.9 L465.2 580.7 L467.5 579.5 L469.8 578.1 L471.9 576.8 L473.9 575.5 L475.8 574.2 L477.6 572.8 L479.2 571.5 L480.7 570.1 L482.1 568.8 L483.5 567.5 L484.9 566.4 L486.2 565.4 L487.5 564.6 L488.7 563.8 L489.9 563.1 L491.2 562.5 L492.6 561.9 L494.2 561.4 L496.0 560.9 L497.7 560.6 L499.6 560.3 L501.3 560.1 L503.0 559.9 L504.6 559.9 L506.2 559.9 L507.8 559.9 L509.3 560.1 L510.8 560.3 L512.1 560.6 L513.3 561.0 L514.6 561.4 L515.7 561.9 L516.7 562.5 L517.5 563.1 L517.9 563.8 L517.9 564.5 L517.7 565.3 L517.2 566.1 L516.5 567.0 L515.6 568.0 L514.7 569.0 L513.5 570.1 L512.2 571.3 L510.7 572.6 L509.1 573.9 L507.4 575.3 L505.6 576.8 L503.7 578.3 L501.7 580.0 L499.5 581.8 L497.3 583.6 L495.0 585.4 L492.6 587.1 L490.2 588.9 L487.7 590.7 L485.1 592.5 L482.5 594.3 L479.8 596.0 L477.1 597.5 L474.4 598.8 L471.6 600.0 L468.8 601.0 L466.0 602.0 L463.1 603.0 L460.3 603.9 L457.4 604.9 L454.4 605.9 L451.4 606.9 L448.5 607.7 L445.8 608.5 L443.5 609.1 L441.4 609.6 L439.6 610.0 L438.0 610.3 L436.6 610.5 L435.4 610.5 L434.4 610.4 L433.7 610.2 L433.2 609.8 L432.9 609.2 L432.8 608.6 L432.9 607.9 L433.1 607.2 L433.5 606.4 L434.2 605.4 L435.0 604.4 L435.9 603.4 L437.1 602.4 L438.3 601.4 L439.7 600.4 L441.2 599.4 L442.9 598.4 L444.7 597.4 L446.6 596.4 L448.6 595.5 L450.8 594.7 L453.1 594.0 L455.5 593.4 L458.0 592.7 L460.5 591.9 L462.9 591.0 L465.3 589.9 L467.7 588.7 L470.2 587.3 L472.6 585.9 L474.9 584.6 L477.1 583.2 L479.3 581.9 L481.4 580.6 L483.5 579.4 L485.5 578.1 L487.2 576.8 L488.8 575.5 L490.1 574.2 L491.2 573.0 L492.2 571.8 L492.9 570.6 L493.5 569.2 L493.9 567.7 L494.1 565.9 L493.9 563.7 L493.6 561.4 L493.2 559.2 L492.9 557.4 L492.6 556.1" fill="none" stroke="#000" stroke-width="1" stroke-linejoin="round" shape-rendering="crispEdges" />
<path d="M421.5 609.1 L422.0 609.7 L422.7 610.5 L423.5 611.4 L424.4 612.4 L425.5 613.4 L426.6 614.3 L427.9 615.2 L429.3 616.1 L430.8 617.0 L432.4 617.9 L434.0 618.7 L435.7 619.5 L437.5 620.2 L439.4 620.9 L441.4 621.5 L443.5 622.1 L445.5 622.5 L447.4 622.7 L449.2 622.7 L451.0 622.6 L452.8 622.3 L454.5 621.9 L456.1 621.4 L457.7 620.8 L459.2 620.0 L460.7 619.1 L462.0 618.0 L463.3 616.9 L464.5 615.9 L465.5 614.9 L466.3 614.1 L467.0 613.2 L467.6 612.3 L468.0 611.5 L468.4 610.9 L468.7 610.4" fill="none" stroke="#000" stroke-width="1" stroke-linejoin="round" shape-rendering="crispEdges" />
<path d="M427.9 628.5 L429.0 628.0 L430.4 627.3 L432.1 626.5 L434.1 625.6 L436.1 624.5 L438.3 623.4 L440.6 622.1 L443.1 620.7 L445.7 619.2 L448.5 617.6 L451.2 615.9 L453.8 614.3 L456.4 612.7 L459.0 611.0 L461.6 609.3 L464.2 607.5 L466.8 605.8 L469.4 603.9 L472.0 602.1 L474.6 600.1 L477.3 598.1 L479.9 596.1 L482.4 594.2 L484.9 592.3 L487.2 590.5 L489.5 588.7 L491.7 586.9 L493.8 585.2 L495.8 583.5 L497.8 581.9 L499.7 580.5 L501.6 579.1 L503.4 577.7 L505.1 576.5 L506.7 575.3 L508.2 574.2 L509.6 573.1 L510.9 572.1 L512.1 571.1 L513.1 570.2 L514.0 569.5 L514.7 569.0" fill="none" stroke="#000" stroke-width="1" stroke-linejoin="round" shape-rendering="crispEdges" />
<path d="M431.8 628.5 L432.8 627.8 L434.3 626.9 L435.9 625.8 L437.7 624.6 L439.4 623.3 L440.9 622.1 L442.1 620.9 L443.2 619.7 L444.3 618.4 L445.3 617.1 L446.3 615.8 L447.4 614.3 L448.4 612.7 L449.6 610.9 L450.7 609.1 L451.8 607.3 L452.8 605.5 L453.8 603.9 L454.8 602.5 L455.7 601.1 L456.6 599.7 L457.4 598.5 L458.2 597.3 L459.0 596.2 L459.8 595.1 L460.5 594.1 L461.3 593.1 L461.9 592.2 L462.5 591.5 L462.9 591.0" fill="none" stroke="#000" stroke-width="1" stroke-linejoin="round" shape-rendering="crispEdges" />
</g>
<rect x="420.5" y="530.4" width="100.0" height="100.0" fill="none" stroke="#000" stroke-width="2.5"/>
<path d="M470.5 529.1 V521.9 M470.5 631.7 V636.7 M419.2 580.4 H412.2 M521.8 580.4 H527.5" stroke="#000" stroke-width="1" shape-rendering="crispEdges"/>
<clipPath id="cc"><rect x="300.6" y="680.3" width="220" height="220"/></clipPath>
<g clip-path="url(#cc)" stroke="#000" stroke-opacity="0.82" stroke-width="1.0" stroke-linejoin="round" fill-rule="evenodd" shape-rendering="crispEdges">
<rect x="300.6" y="680.3" width="220" height="220" fill="#ff0000" stroke="none"/>
<path d="M299.6 679.3l222 0 0 222-222 0 0-222zM358.6 868.1l-3 .8-3 1.6-2 1.8-2.1 3-1.3 3-.4 2-.2 2 0 2 .3 2 1 3 1.6 3 2.1 2.4 3 2.3 3 1.5 4 1.2 4 .5 4-.3 3-.9 2-1.2 1.6-1.5 1.1-2 .5-2 .1-3-.3-2.6-.9-3.4-1.1-3-1.5-3-1.5-2.3-2-2.4-2-1.8-2.5-1.5-2.5-.9-2-.3-3 0z" fill="#ff1f00"/>
<path d="M299.6 679.3l50 0 4 3.2 5 1.8 5 1 5 .3 5-.4 4-1 2.1-.9 1.6-1 1.9-3 138.4 0 0 222-138.4 0 1-3 .5-2 .1-3-.3-3-.9-4-1.5-5-1.6-4-2-4-1.9-3-1.6-2-2-2-2.4-1.8-2.2-1.2-2.8-1-2-.5-3-.2-3 .2-3 .7-3 1.2-3 1.8-2.1 1.8-2.4 3-1.6 3-1.1 3-.6 3-.3 4 .5 4 .8 3 1.4 3 1.4 2.2 2.5 2.8 2.5 3-50 0 0-222z" fill="#ff3300"/>
<path d="M299.6 679.3l43 0 2.2 3 2.9 2 2.9 1.5 4 1.5 4 1.1 4 .7 4 .4 4 .1 4-.1 4-.5 3-.7 3-1.1 2-1.1 2.1-1.8 1.2-2 .6-3 131.1 0 0 222-131.1 0 .3-4-.4-3-.8-4-1.5-5-2.4-7-2-5-2-4-1.9-3-1.5-2-2-2-2.6-2-2.1-1.2-2-.9-3-.9-3-.5-3-.1-4 .3-3 .7-4 1.4-3 1.7-3 2.3-2.1 2.2-2 3-1.5 3-1.3 4-.7 4-.2 4 .4 4 .9 4 1.2 3 1.8 3 2.5 4-43 0 0-222z" fill="#ff4700"/>
<path d="M299.6 679.3l37.5 0 2.5 3.8 3 2.5 4 2.3 4 1.7 5 1.5 5 1 6 .6 6 .2 6-.2 5-.7 4-.9 2.1-.8 1.9-.9 1.6-1.1 1-1 1.4-2 .6-2 .1-4 125.3 0 0 222-125.3 0-.6-5-1.1-4-6-17.5-3-7.3-1.7-3.2-1.3-1.9-1.7-2.1-2.1-2-2.2-1.6-2.6-1.4-2.4-1-3.7-1-3.3-.5-3-.2-4 .2-4 .7-4 1.1-4 1.8-3 1.9-3 2.6-2.8 3.4-1.7 3-1.6 4-1.1 4-.5 4-.1 5 .6 5 1 4 1.8 4 1.9 4-37.5 0 0-222z" fill="#ff5c00"/>
<path d="M299.6 679.3l32.9 0 1.3 3 1.7 2 3.1 2.8 3.3 2.2 4.7 2.2 5.6 1.8 6.4 1.3 7 .9 8 .3 7-.2 7-.8 6-1.4 4-1.7 2-1.4 .9-1 1.1-2 .3-1 .2-2-.7-5 120.2 0 0 222-120.2 0-1.2-5-4.9-13-5.7-16.6-2-4.4-2.6-4-1.8-2-2.5-2-2.1-1.3-3-1.4-3-1-4-.9-3.1-.4-3.9-.2-5 .3-5 .9-4 1.1-4 1.8-3 1.7-3 2.4-2.8 3-2.2 3.3-2 4.4-1.3 4.3-.9 5-.3 5 .3 5 .8 5 1.3 4 2 5-32.9 0 0-222z" fill="#ff7000"/>
<path d="M299.6 679.3l28.8 0 2.4 5 1.7 2 2.1 2 4.2 3 4.8 2.3 6 1.9 8 1.6 9 .9 9 .3 9-.3 8-.8 6-1.3 2-.6 3-1.3 2-1.4 1.2-1.3 .8-1.4 .4-1.6-.1-3-.6-2-1.1-4 115.4 0 0 222-115.4 0-5-12-2.4-6-2.1-6-3.1-10.4-1.6-4.6-1.8-4-2.1-3-1.8-2-2.6-2-3.1-1.7-3-1.2-3.7-1.1-3.3-.6-4-.5-4-.2-6 .3-5 .7-5 1.3-4 1.5-4 2.1-3.2 2.4-2.8 2.8-2.3 3.2-2.1 4-1.7 5-1.1 5-.6 6 .1 6 .6 5 1.3 5 1.6 5-28.8 0 0-222z" fill="#ff8500"/>
<path d="M299.6 679.3l25.1 0 1.4 4 1.2 2 1.5 2 1.8 2 2 1.7 2 1.4 3 1.8 3 1.3 3 1.1 4 1.1 8.6 1.6 10.4 1 11 .3 11-.3 10-1.1 4.7-.9 3.3-.9 2.8-1.1 1.8-1 1.4-1.1 .9-.9 .5-1 .4-1 .1-2-.4-2-.7-2-2.6-6 110.8 0 0 222-110.8 0-5-10-3.3-7-2.8-8-3.3-13-1.2-4-1.8-4-2-3-2-2-2.8-2-3-1.5-3-1.1-4-1.1-4-.7-5-.5-5-.2-6 .3-6 .8-5 1.1-5 1.7-4 2-3.1 2.2-2.9 2.7-2.6 3.3-2.2 4-1.9 5-1.2 5-.8 6-.2 7 .5 6 .9 5 1.6 6-25.1 0 0-222z" fill="#ff9900"/>
<path d="M299.6 679.3l21.6 0 1.6 5 1.8 3 2 2.7 2.4 2.3 2.6 2 3.6 2 3.4 1.4 4 1.3 7 1.6 9 1.2 9 .7 11 .2 14-.4 10.7-1 5.3-.9 4-.9 3.3-1.2 2-1 1.7-1.3 1.2-1.7 .4-1 .1-2-.5-2-.9-2-1.8-3-2.8-5 106.3 0 0 222-106.3 0-3.7-6.4-2.2-3.6-2.2-4-2.2-5-1.5-4-1.4-5-2.5-13-1-4-1.6-4-2.1-3-2.2-2-2.1-1.3-3.5-1.7-3.5-1.2-4-.9-5.2-.9-5.8-.5-5-.2-6 .2-5 .5-5 .8-5 1.2-4 1.3-3.6 1.7-3.2 2-2.5 2-1.9 2-1.6 2-1.2 2-1.6 3-1.2 3-.9 3-1.2 6-.8 8 0 8 .9 7 1.4 7-21.6 0 0-222z" fill="#ffad00"/>
<path d="M299.6 679.3l18.4 0 1.3 5 1.4 3 1.9 3 2 2.4 2.9 2.6 3.1 2 3 1.5 4.2 1.5 7.8 1.9 9 1.3 12 .9 13 .3 15.7-.4 12.5-1 5.8-.8 4-.8 4-1.2 2.7-1.2 1.5-1 1-1 .6-1 .5-2-.2-2-.7-2-1.8-3-5.5-8 101.9 0 0 222-101.9 0-4.1-6.2-3.3-4.8-2.8-5-2.1-5-1.6-5-1.1-5-1.5-13-.7-4-1-3-.9-1.7-1-1.4-2-1.9-3.2-2-3.8-1.5-4-1.2-5-1-6-.8-6-.4-6-.2-6 .2-6 .5-6 .9-5 1.1-4.3 1.4-3.7 1.7-3 1.7-3.2 2.6-1.8 1.9-1.6 2.1-2.4 4.4-2 5.6-1.5 7-.9 8-.1 8 .6 8 1.3 8-18.4 0 0-222z" fill="#ffc200"/>
<path d="M299.6 679.3l15.4 0 1 5 1.6 4 1.6 3 2.2 3 2.2 2.1 3 2.2 3.3 1.7 3.7 1.4 4 1.2 4 .9 10.7 1.5 13.3 .9 15 .3 18-.4 15-1.1 5.7-.7 5.1-1 3.3-1 2.9-1.3 2.1-1.7 .8-1 .4-1 .1-2-.5-2-.9-2-1.9-3-3.1-4-3.6-5 97.6 0 0 222-97.6 0-5.1-7-3.7-5-2.9-5-2.1-5-1.4-5-1-6-.3-5 0-10-.3-3-.8-3-.8-1.4-1.3-1.6-2.5-2-3.2-1.6-4-1.4-4.1-1-5.8-1-6.1-.7-7-.5-7-.1-7 .1-7 .5-6 .8-6 1.2-5 1.6-4 1.7-3 1.8-3.1 2.6-2.9 3.4-2.5 4.6-1.2 3-.9 3-1.4 6.6-.9 8.4-.3 9 .5 9 1.1 8-15.4 0 0-222z" fill="#ffd600"/>
<path d="M299.6 679.3l12.5 0 1.1 6 1.3 4 1.3 3 1.9 3 1.9 2.1 3 2.5 3 1.8 4 1.6 4 1.2 5 1.1 5 .8 6 .6 14 .9 18 .3 21-.4 9.8-.5 7.2-.6 6-.8 5-1 4-1.3 2.5-1.3 1.5-1.3 1.1-1.7 .2-2-.4-2-1-2-2-3-8.5-11 93.6 0 0 222-93.6 0-6.2-8-3.8-5-2.9-5-1.3-3-1-3-.8-3-.5-3-.4-6 .4-5 1.5-10 .1-3-.3-2-.4-1-1.2-2-2.5-2-3.1-1.5-4.5-1.5-4.6-1-6.5-1-8.4-.8-8-.5-9-.2-8 .2-8 .6-7 .8-6 1.2-5 1.5-4 1.7-3 1.8-3.2 2.7-2.8 3.5-2.3 4.5-1.7 5.1-1.4 6.9-.9 9-.4 10 .3 9 .9 9-12.5 0 0-222z" fill="#ffeb00"/>
<path d="M299.6 679.3l9.8 0 .8 6 1.2 5 1.6 4 1.6 2.8 2 2.5 3 2.5 3 1.7 3 1.2 4.2 1.3 4.8 1 11 1.4 15 .9 20 .3 25-.4 10-.5 8-.6 6-.7 5-.8 4-1 3.8-1.6 1.5-1 1-1 .7-1 .3-1 .1-1-.1-1-.7-2-1.2-2-2.4-3-10.1-12 90.1 0 0 127.7-2.7 1.3-1.9 2-.7 1-.3 1 0 1 .6 1.1 1 .9 4 1.5 0 84.5-90.1 0-7.7-10-3.6-5-1.8-3-1.3-3-1.1-3-.7-3-.5-3-.1-3 .1-3 .4-3 1.2-5 3.2-9 1-4-.1-2-.3-1-.5-1-.8-1-2.3-1.6-3.5-1.4-4.5-1.2-6-1-7-.9-10-.8-10-.4-10-.2-9 .2-9 .5-8 .8-6 1-5 1.2-4.6 1.8-3.5 2-2.9 2.4-1.4 1.6-1.4 2-2 4-1.6 5-1.3 7-1 9-.4 11 .2 10 .7 10-9.8 0 0-222z" fill="#ffff00"/>
<path d="M299.6 679.3l7.2 0 .6 7 1 5 1.1 4 1.3 3 1.8 2.7 2.2 2.3 2.8 2 3 1.4 4 1.2 4 .9 5 .8 7 .7 17 .9 22 .2 28-.3 12-.5 9-.6 6.8-.7 6-1 4.2-1.1 2.5-.9 1.5-.8 1.6-1.2 .9-1 .4-1 .1-1-.1-1-.2-1-1.1-2-1.5-2-1.8-2-9.3-8.9-3.9-5.1 86.9 0 0 123.7-7 3.3-4.6 3-2.4 2-.9 1-.5 1-.3 1 .2 1 .7 1 1.4 1 1.4 .6 5.1 1.4 6.9 .9 0 81.1-86.9 0-6.8-9-3.7-5-1.9-3-1.5-3-1.2-3-.8-3-.5-3-.2-3 .2-3 .6-3 .8-3 1.2-3 1.5-3 5.1-9 .9-2 .7-2 .2-2-.2-1-.5-1-.8-1-2.2-1.4-3-1.1-5-1.1-6-.7-9-.8-12-.7-12-.5-12-.1-11 .1-10 .5-8 .6-7 1-5.5 1.2-4.5 1.6-2 1-2 1.3-2.4 2.1-2.2 3-1.9 4-1.5 5.1-1.2 6.9-.8 9-.4 11 0 12 .6 11-7.2 0 0-222z" fill="#ebff00"/>
<path d="M299.6 679.3l4.6 0 .5 8 .6 5 .7 4 1.2 4 1.4 2.8 1.6 2.2 2.4 2 2 1.1 3 1.1 4 1 5 .8 6 .6 17 .8 25 .3 35-.4 13-.4 11-.6 8-.7 7-1 5-1.1 3.9-1.5 1.5-1 1-1 .4-1 .1-1-.2-1-.3-1-1.3-2-3.9-4-11.2-9.4-6-6.6 84 0 0 120.8-14 6.2-7.1 4-4.1 3-1.6 2-.4 1 0 1 .7 1 1.6 1 3.1 1 7.8 1.3 14 1 0 78.7-84 0-3.6-5-3.2-4-2.7-4-3-5-1.5-3-1-3-.7-3-.3-4 .2-3 .6-3 1-3 1.4-3 2.9-5 7.2-10 2.3-4 .7-2 .2-1-.1-1-.3-1-.8-1-1.3-1-1-.4-3-1-4-.7-7-.7-25-1.1-29-.4-13 .2-12 .3-9 .6-7 .8-5 1-4.4 1.4-2 1-1.6 1-2 1.9-1 1.2-1.1 1.9-1.6 4-1.1 5-.8 6-.7 9-.3 12-.1 13 .3 13-4.6 0 0-222z" fill="#d6ff00"/>
<path d="M299.6 679.3l2.2 0 .5 16 .4 5 .7 4 .6 2 .9 2 1.6 2 1.5 1 1.6 .7 3 .8 4 .6 5 .4 15 .5 25 .2 39-.3 33-.8 20.2-1.1 7.8-.9 5-.8 4.1-1.3 1.5-1 .7-1-.1-1-.4-1-.7-1-2.1-2-2.6-2-20.4-14.8-6.1-6.2 81.1 0 0 118.3-20.9 8.7-6.2 3-5.7 3-5.1 3-2.9 2-1 1-.8 1-.3 1 .6 1 2.2 1 6.2 1 12.9 .7 21 .5 0 76.8-81.1 0-3.8-5-3.2-4-2.7-4-2.2-4-1.8-4-1.2-4-.5-4 0-3 .5-3 .9-3 1.7-4 1.8-3 4.3-6 10.5-12 2.9-4 .8-2 0-1-.3-1-.6-.6-.4-.4-1.6-.7-3-.7-4.4-.6-6.6-.4-22-.4-42-.3-31 .3-10 .3-7 .4-5 .6-4 1-2 .8-1.2 .7-1.1 1-1.4 2-1.1 3-.7 3-.5 5-.5 9-.3 12 0 36-2.2 0 0-222z" fill="#c2ff00"/>
<path d="M443.4 679.3l78.2 0 0 24.8-14 .8-10-.1-8-.9-8-2-4-1.4-5-2-4-1.8-5-2.6-6-3.6-6-3.9-5-3.7-3.2-3.6zM421.7 715.3l23.9-.3 16 .1 13 .6 25 1.7 10 .3 12 0 0 77.5-58 23.8-5 1.7-4 1.1-8 1.3-12 .8-20 .4-50 .2-32-.3-12-.6-7-.8-3-.8-1.9-.7-1.6-1-1.1-1-1.4-2.2-1-2.8-.7-4-.5-5-.7-18-.1-28 .3-18 .8-11 .4-3 .8-3 1-2 1.7-2 2-1.2 4-1.2 5-.6 8-.6 20-.5 76.1-.9zM513.1 826.3l8.5-.1 0 75.1-78.2 0-2.8-3.6-3-3.4-2.3-3-2-3-1.6-3-1.8-4-.9-3-.6-3-.2-3 .1-3 .6-3 .9-3 1.4-3 1.7-3 2.1-3 2.6-3.1 3-3.2 8-7.2 5-4.1 3-2.1 5-2.9 5-2 6-1.3 9-1 13-.7 18.5-.4z" fill="#adff00"/>
<path d="M446.3 679.3l75.3 0 0 20.5-15 .7-9-.1-8-.8-9-1.8-4-1.2-5-1.7-7-3.1-5-2.7-5-3-4-2.6-4.3-4.2zM376.1 717.3l50.5-.6 12 .1 11 .3 15 1.1 27 3.1 30 2.6 0 69.1-10 3.8-23 9.1-25 9.1-6 2-6 1.7-6 1.3-6 .9-12 .9-18 .6-34 .4-24-.1-14-.6-10-.9-4-.6-4-.8-3-1-2-.8-2.6-1.7-2.1-2-1.3-2-1.4-3-1-3-.8-4-.7-5-.5-6-.4-10-.2-12 .1-12 .4-10 .7-7 .8-5.2 1.4-4.8 1.5-3 1.1-1.5 1.5-1.5 1.5-1.1 1.7-.9 4.3-1.5 6-1.2 8-.9 10-.6 33.5-.8zM507.4 828.3l14.2-.6 0 73.6-75.3 0-2.3-3-2.4-2.3-2.4-2.7-2.3-3-1.8-3-1.5-3-1.2-3-.9-3-.5-3-.1-3 .2-3 .7-3 .6-2 1.3-3 1.8-3 2.1-2.9 2-2.4 3-3 3-2.7 4-3.2 4-2.8 4-2.6 3-1.6 3-1.5 4-1.5 7-2.1 8-1.5 12-1.3 12.8-.9z" fill="#99ff00"/>
<path d="M449.4 679.3l72.2 0 0 17.6-15 .6-9-.1-8-.7-9-1.7-8-2.3-7-2.8-8-4.2-4-2.5-4.2-3.9zM397.2 718.3l19.4-.2 14 .1 11 .3 10 .7 17 1.9 21 3.2 20 2.7 12 1.9 0 61.9-11 4.3-22 8.5-27 9.3-7 2.2-6 1.6-6 1.3-7 1-13 1.1-21 .7-28 .4-20-.2-13-.8-10-1.2-4-.8-3.5-.9-2.7-1-2.8-1.4-3-2.2-2-2.1-1.5-2.3-1.5-3.2-1.2-3.8-1.1-5-.7-5.5-.6-6.5-.4-10 0-10 .3-9 .6-8 .9-6 1.2-5 1.7-4 2-3 1.3-1.5 1.9-1.5 2.1-1.3 2-.9 3-1.1 3-.8 8-1.3 10-1 13-.7 40.6-.9zM518.1 829.3l3.5-.1 0 72.1-72.2 0-4.8-4.9-3.8-4.1-1.5-2-2-3-1.5-3-1.1-3-.8-3-.5-3 0-3 .1-2 .6-3 .7-2 1.3-3 1.5-2.7 1.7-2.3 2.3-2.7 5-4.7 7-5.2 7-4.1 7-3.2 7-2.3 9-2.1 9-1.4 12-1.3 13.5-1z" fill="#85ff00"/>
<path d="M452.4 679.3l69.2 0 0 15.3-15 .6-9-.1-7-.6-9-1.5-8-2.1-7-2.6-7-3.5-7.2-5.5zM367.1 720.3l26.5-.7 24-.2 15 .2 13 .8 9 1 10 1.3 36 6.1 11 2.1 10 2.5 0 55.1-8 3.3-8 3.2-17 6.5-10 3.5-21 6.8-7 2.1-8 1.9-9 1.5-12 1.1-17 .7-26 .5-18-.1-13-.6-10-1.1-8-1.6-3.1-.9-2.9-1.1-3.5-1.9-2.5-1.9-2.1-2.1-1.9-2.7-1.6-3.3-1.1-3-1.1-4-.9-5-.8-7-.4-8-.2-9 .3-8 .6-7 .9-6 1.2-5 1.5-4 1.1-2 1.4-2 1.8-2 1.3-1.2 2-1.4 2.8-1.4 5.2-1.9 7-1.5 8-1.1 11-.9 13.5-.6zM510.9 831.3l10.7-.8 0 70.8-69.2 0-4.8-4.7-3.5-3.3-1.8-2-2.1-3-1.2-2-1.4-3-.8-2-.7-3-.4-3-.1-2 .3-3 .4-2 1-3 .9-2 1.4-2.4 1.9-2.6 4.1-4.4 6-4.8 6-3.9 7-3.6 7-2.9 7-2.1 9-2.1 11-1.8 12.3-1.4z" fill="#70ff00"/>
<path d="M455.5 679.3l66.1 0 0 13.4-14 .5-8 0-7-.4-8-1.2-8-1.8-7-2.2-7-3.2-7.1-5.1zM377.2 721.3l24.4-.6 19 0 14 .4 13 1.1 9 1.2 10 1.7 34 6.5 11 2.8 5 1.6 5 1.6 0 48.6-7.2 3.1-7.8 3.4-16 6.1-9 3.2-31 9.8-9 2.2-9 1.6-12 1.2-17 .7-24 .6-17-.1-12-.7-10-1.2-8-1.6-3-1-3.1-1.2-3.7-2-2.7-2-2-2-2.2-3-1.5-3-1.6-4-1-4-1-5-.8-7-.4-8 0-8 .4-7 .6-6 1.2-6 1.3-4 1.8-4 1.3-2 1.6-2 1.8-1.7 2-1.5 2-1.2 3-1.4 6-1.9 8-1.6 9-1.1 12-.9 15.6-.7zM515.3 832.3l6.3-.5 0 69.5-66.1 0-3.9-3.7-2.8-2.3-2.2-2-2.7-3-2.7-4-1-2-1.2-3-.8-3-.2-2-.1-3 .2-2 .5-2.6 .8-2.4 2.2-4.3 2-2.7 1.8-2 4.2-3.9 6-4.3 6-3.5 7-3.3 7-2.5 8-2.3 9-2 11-1.8 11.7-1.4z" fill="#5cff00"/>
<path d="M458.7 679.3l62.9 0 0 11.6-14 .6-8-.1-7-.4-7-1-7-1.5-7-2-6-2.5-6.9-4.7zM385.9 722.3l20.7-.4 17 .1 13 .7 12 1.2 8 1.3 11 2 30 6.4 6 1.5 5 1.5 4 1.5 4 1.7 5 2 0 41.9-7 3.3-7.1 3.3-10.9 4.4-12 4.4-34 10.8-9 2.3-9 1.7-11 1.2-16 .9-23 .6-17-.1-11-.6-10-1.1-8-1.6-4-1.2-3-1.2-3-1.5-3-2-3-2.8-2-2.5-2-3.5-1.4-3.2-1.5-5-1-5-.8-7-.4-7 .1-7 .5-7 .8-6 1.2-5 1.5-4.1 2-3.8 1.5-2.1 1.9-2 1.6-1.4 2.3-1.6 2.7-1.4 3-1.3 7-2.1 8-1.4 11-1.3 13-.9 16.3-.6zM518.3 833.3l3.3-.2 0 68.2-62.9 0-4.1-3.7-3.1-2.3-3.3-3-2.8-3-2.6-4-1.2-2.6-.8-2.4-.4-2-.4-3 .2-3 .3-2 1.3-4 1-2 1.8-2.7 3-3.5 5-4.3 6-4.1 6-3.2 7-3.1 7-2.5 8-2.2 10-2.2 10-1.7 11.7-1.5z" fill="#47ff00"/>
<path d="M461.9 679.3l59.7 0 0 10-14 .5-6 .1-7-.3-6-.7-8-1.6-7-1.8-6-2.3-5.7-3.9zM393.6 723.3l18-.2 14 .2 12 .8 11 1.4 9 1.5 10 2 26 6 10 2.8 8 3.1 4.7 2.4 5.3 2.7 0 35-6.2 3.3-7.8 3.9-9.7 4.1-12.3 4.7-11 3.7-25 7.8-9 2.3-9 1.6-12 1.3-16 .9-22 .6-16-.2-11-.7-9-1.2-7.8-1.8-3.2-1-3-1.3-4-2.2-3-2.3-2.2-2.2-2.3-3-1.7-3-1.6-4-1.2-4-1-5-.7-6-.4-7 .1-7 .6-6 .8-5 1.3-5 1.6-4 2.4-4 1.6-2 2.1-2 2.6-2 2-1.2 3-1.4 3-1.2 7-1.9 9-1.6 11-1.2 14-.9 18-.6zM520.4 834.3l1.2 0 0 67-59.7 0-4.8-4-4.1-3-3.4-3.1-3.3-3.9-2.3-4-1.3-4-.4-2-.1-3 .6-4 1.5-4 2.5-4 3.7-4 5.1-4.2 5-3.2 7-3.6 6-2.6 8-2.8 8-2.2 10-2.2 10-1.8 10.8-1.4z" fill="#33ff00"/>
<path d="M465.2 679.3l56.4 0 0 8.5-18 .6-7-.2-6-.6-8-1.4-7-1.7-5-1.8-5.4-3.4zM401.8 724.3l14.8 0 12 .4 10 .9 11 1.5 17 3.4 17 4.1 14 3.8 5.4 1.9 4.6 1.9 4 2 3.6 2.1 2.8 2 3.6 2.2 0 27.3-5.5 3.5-6.9 4-8.6 4-13 5.2-12 4.1-25 7.9-9 2.4-9 1.8-11 1.4-15 1-22 .6-16-.1-11-.6-9-1.2-8-1.8-6-2.2-4-2-3-2.1-2.6-2.4-2.4-3-2-3.3-1.6-3.7-1.3-4-1.1-5-.8-6-.3-7 .2-6 .6-6 1-5 1.6-5 1.9-4 2-3 1.8-2 2.2-2 2.8-2 2-1.1 3-1.4 4-1.4 8-2 10-1.6 12-1.1 15-.9 18.2-.5zM514.4 836.3l7.2-.8 0 65.8-56.4 0-5.2-4-4.2-3-3.5-3-2.8-3-2.7-4-1.7-4-.7-4 .2-4 1.2-4 1-2 1.3-2 3.3-4 3.4-3 4.8-3.5 6-3.4 6-2.9 7-2.8 8-2.5 9-2.3 9-2 9.8-1.6z" fill="#1fff00"/>
<path d="M468.8 679.3l52.8 0 0 7-16 .6-7-.1-6-.4-6-.9-7-1.5-6-1.8-4.8-2.9zM378.9 726.3l17.7-.7 16-.2 13 .4 12 1 12 1.8 15 3.1 15 3.8 16.4 4.8 7.8 3 3.8 1.9 3 1.7 3.5 2.4 2.4 2 2 2 1.7 2 1.4 .6 0 17.7-3.3 2.7-2.2 2-2.6 2-3.2 2-7.5 4-12.2 5.3-11 4.1-25 8-11 3.2-9 2-11 1.6-12 1-18 .7-18 .1-11-.3-9-.9-8-1.3-7-1.9-4-1.6-3-1.5-3-1.9-3-2.6-2.6-3-2-3-1.5-3-1.4-4-1.3-5-.8-5-.4-5 0-6 .3-5 .8-5 1.2-5 1.6-4 1.6-3 1.4-2 1.6-2 2.1-2 2.4-1.8 2-1.3 3-1.5 3-1.2 7.3-2.2 8.7-1.7 11-1.3 13.3-1zM515.8 837.3l5.8-.7 0 64.7-52.8 0-5.2-3.7-5-3.3-4-3.3-3.4-3.7-2-3-1.1-2-.7-2-.5-2-.2-2 0-2 .3-2 .5-2 .8-2 2.3-3.8 3-3.4 4-3.5 4.8-3.3 6.2-3.4 6-2.8 7-2.6 8-2.5 8-2.1 9-2 9.2-1.6z" fill="#0aff00"/>
<path d="M472.6 679.3l49 0 0 5.7-5 0-10 .6-7-.1-6-.4-5-.7-6-1.2-6-1.5-4-2.4zM382.9 727.3l15.7-.6 14-.2 12 .4 11 1 11 1.6 12 2.4 13 3.2 13 3.8 10 3.2 7 2.9 6.1 3.3 2.8 2 2.1 1.7 2.3 2.3 1.7 2 1.2 2 1 2 .8 2.9 .2 2.1-.2 2-.5 2-1.5 3-1.4 2-1.8 2-2.3 2-2.7 2-3.2 2-3.7 2-6.2 3-9.7 4.1-12 4.3-23 7.4-7 2-7 1.7-10 1.8-12 1.2-15 .8-18 .4-12-.2-10-.7-9-1.3-7-1.7-4-1.4-4-1.8-3-1.8-3-2.3-2.5-2.5-2.3-3-1.7-3-1.7-4-1.2-4-1-5-.5-5-.1-6 .3-5 .7-5 1.4-5 1.6-4 1.7-3 1.5-2 1.7-2 2.1-1.9 2-1.5 3-1.8 3-1.5 3-1.1 7.5-2.2 9.5-1.8 11-1.3 13.3-.9zM517 838.3l4.6-.6 0 63.6-49 0-6-3.8-5.2-3.2-4.9-4-3.6-4-1.9-3-.9-2-.6-2-.4-2-.1-2 .4-3 1.2-3.4 2.1-3.6 2.9-3.3 4.3-3.7 4.7-3.2 6-3.3 5-2.3 7-2.7 8-2.6 9-2.4 9-2 8.4-1.5z" fill="#00ff0a"/>
<path d="M477.1 679.3l44.5 0 0 4.3-5 .1-10 .5-11-.2-4-.5-5-.8-5-1.2-4.5-2.2zM386.5 728.3l14.1-.5 12-.1 12 .4 10 .9 10 1.5 11 2.2 12 3 12.2 3.6 11.9 4 5.9 2.4 6 3.2 4.8 3.4 2.2 2 1.7 2 1.4 2 1.1 2 .8 2.5 .3 2.5-.1 2-.5 2-1.5 3-1.5 2-1.9 2-2.3 2-2.8 2-3.3 2-9.9 5-5.5 2.4-6 2.3-21 7.1-13 4-10 2.5-10 1.8-12 1.2-15 .8-17 .2-12-.2-9-.7-9-1.4-7-1.8-4-1.5-4-2-3-1.9-3-2.5-2.1-2.3-2.2-3-1.7-3.2-1.5-3.8-1.2-4-.9-5-.4-5 0-5 .5-5 .7-4 1.2-4 1.7-4 1.8-3 1.5-2 1.8-2 2.3-2 2.5-1.7 3-1.7 6-2.5 8-2.2 9-1.7 11-1.2 13.9-1zM518 839.3l3.6-.4 0 62.4-44.5 0-3.5-2.2-3-1.3-3-1.5-3-1.8-3.1-2.2-2.4-2-2.1-2-1.6-2-2-3-.9-2-.7-2-.3-2-.1-2 .5-3 .6-2 .9-2 2-3 2.8-3 3.5-3 4.9-3.3 5-2.8 6-2.8 7-2.7 7.5-2.4 8.5-2.3 8-1.9 9.4-1.8z" fill="#00ff1f"/>
<path d="M482.3 679.3l39.3 0 0 3-5 0-10 .7-9-.2-7-.8-8.3-2.7zM389.8 729.3l12.8-.5 12 0 10 .5 10 1 10 1.5 10 2.2 12 3.1 10.6 3.2 9.4 3.3 8 3.2 6 3.2 4.6 3.3 2.1 2 1.7 2 1.3 2 1 2 .6 2 .2 2-.1 2-.5 2-.9 2-1.3 2-1.8 2-2.9 2.6-3.4 2.4-3.3 2-8.3 4.3-5 2.1-6.7 2.6-19.3 6.6-13 4.1-10 2.4-10 1.8-12 1.2-14 .7-16 .2-12-.3-9-.7-8-1.3-7-1.8-4-1.5-4-2-3-1.9-3-2.5-2-2.1-2.2-2.9-1.8-3.3-1.5-3.7-1.2-4-.9-5-.4-5 .2-5 .6-5 .9-4 1.5-4 1.5-3 1.3-2 2-2.5 2-2 2-1.6 2.8-1.9 2.2-1.2 3-1.4 4-1.5 8-2.1 9-1.6 11-1.2 14.2-1zM518.8 840.3l2.8-.3 0 61.3-39.3 0-7.7-3.4-3.7-1.6-3.3-1.8-3.3-2.2-2.5-2-2.2-2-2.5-3-1.8-3-1.1-3-.3-2 0-2 .4-3 .7-2 1-2 2.2-3 2.9-3 3.8-3 4.5-3 5.2-2.8 6-2.6 6-2.3 8-2.6 8-2.2 8-1.9 8.2-1.6z" fill="#00ff33"/>
<path d="M488.4 679.3l33.2 0 0 1.8-5 0-9 .6-7-.1-6-.3-6.2-2zM392.8 730.3l11.8-.4 11 .1 10 .5 9 1 9 1.5 10 2.2 11.7 3.1 9.6 3 9.7 3.6 8 3.4 5.4 3 4 3 2.9 3 1.5 2 1 2 .6 2 .3 2-.1 2-.5 2-.9 2-1.4 2-1.7 2-2.3 2-2.7 2-3.1 2-5 2.8-4 1.9-10.4 4.3-19.6 6.8-12 3.7-10 2.5-10 1.7-11 1.1-14 .7-16 .2-11-.3-9-.8-8-1.3-7-2-4-1.6-3.4-1.7-3-2-2.6-2.2-2-2-2.1-2.8-1.9-3.3-1.6-3.7-1.2-4-.7-4-.4-4 .1-5 .6-5 .9-4 1.5-4 1.5-3 1.4-2 1.9-2.4 2-2 2-1.6 5-3.1 3-1.3 4.2-1.6 7.8-2.1 10-1.7 11-1.2 14.2-1zM519.4 841.3l2.2-.2 0 60.2-33.2 0-3.8-1.8-8-2.4-3-1.2-3.3-1.6-3.2-2-2.7-2-2.8-2.7-2-2.3-1.8-3-1.1-3-.4-2 0-2 .5-3 1.3-3 2-3 2.8-3 3.7-3 4.4-3 4.6-2.5 5.6-2.5 6.4-2.5 7-2.4 9-2.5 7-1.8 8.8-1.8z" fill="#00ff47"/>
<path d="M498.7 679.3l11.4 0-3.5 1.2-7.9-1.2zM395.8 731.3l10.8-.3 10 .2 9 .5 9 1.1 8.9 1.5 9.1 2.1 10.7 2.9 9.4 3 8.9 3.4 8 3.6 5.3 3 4 3 2.8 3 1.3 2 .9 2 .5 2 .1 2-.6 3-.9 2-1.4 2-1.8 2-2.3 2-5.8 4-7.6 4-9.7 4-18.8 6.7-12 3.7-10 2.5-10 1.7-11 1.1-13 .6-15 .1-11-.4-9-.8-8-1.4-6.3-1.8-3.7-1.5-4-2.1-3-2-2.8-2.4-2.2-2.5-2-2.9-1.8-3.6-1.2-3-1-4-.6-4-.2-5 .3-4 .7-4 1.2-4 1.3-3 1.7-3 1.6-2.2 2-2.1 2-1.8 2.6-1.9 2.4-1.4 3.3-1.6 6.7-2.4 8-2 9.8-1.6 11.2-1.2 13.2-.8zM520 842.3l1.6-.1 0 57.6-5 0-6.5 1.5-11.5-1-6-.6-7-1.4-8-2.4-3-1.2-2.9-1.4-3.2-2-2.5-2-2.1-2-1.7-2-1.9-3-1.2-3-.4-3 .4-3 1.1-3 1.9-3 2.6-3 3.9-3.3 4-2.7 4-2.2 6.1-2.8 6.9-2.7 7-2.4 9-2.6 14.4-3.3z" fill="#00ff5c"/>
<path d="M398.9 732.3l9.7-.2 9 .2 9 .7 8 1 9 1.7 9 2.1 10 2.9 9 3 8 3.2 7.2 3.4 5.1 3 3.9 3 2.7 3 1.6 3 .5 2 .2 2-.6 3-1 2-1.4 2-1.8 2-2.3 2-2.8 2-3.1 2-5.7 3-9.5 4-18 6.6-12 3.7-10 2.4-10 1.7-11 1.1-12 .5-14 .1-11-.4-9-.9-7-1.2-7-2-3.8-1.6-3.2-1.7-3-2-2.7-2.3-2.3-2.5-1.8-2.5-1.6-3-1.3-3-1.1-4-.7-4-.2-4 .2-4 .7-4 .8-3 1.6-4 1.8-3 1.6-2.1 2-2.2 2-1.7 2.8-2 3.2-1.8 2.5-1.2 6.5-2.4 8-1.9 10-1.7 12-1.2 13.3-.8zM520.6 843.3l1 55.3-5-.1-9 .7-7-.1-7-.5-6-1.2-7.3-2.1-3.7-1.4-3-1.4-2.1-1.2-2.8-2-2.2-2-1.8-2-1.9-3-1.2-3-.4-3 .4-3 1.2-3 2-3 2.7-3 3.1-2.6 3.6-2.4 4.4-2.4 5.5-2.6 6.5-2.6 7-2.4 9-2.7 14-3.3z" fill="#00ff70"/>
<path d="M402.7 733.3l8.9 0 8 .3 8 .7 8 1.1 8 1.6 9.2 2.3 10 3 7.8 2.8 7.7 3.2 5.9 3 4.8 3 3.7 3 2.5 3 1.4 3 .4 3-.6 3-1 2-1.4 2-1.8 2-2.3 2-5.3 3.5-6.7 3.5-9.5 4-15.8 5.8-11 3.4-10 2.4-10 1.7-10 1-12 .5-14 0-10-.4-9-.9-7.7-1.5-6.3-1.9-3-1.3-3.3-1.8-3-2-2.7-2.4-2.4-2.6-2-3-1.5-3-1.1-3-.8-3-.6-4-.1-4 .3-4 .9-4 1-3 1.5-3 1.9-3 1.7-2 2.2-2.2 2.3-1.8 2.7-1.7 3-1.6 3-1.3 7-2.3 8-1.8 10-1.5 13-1.2 12.1-.6zM516.7 845.3l4.9-.9 0 52.9-5 0-9 .7-6-.1-7-.5-5-.9-7.8-2.2-6.2-2.5-2.6-1.5-2.4-1.7-3.3-3.3-1.5-2-1.4-3-.6-3 .1-3 1-3 1.7-3 2-2.3 2.9-2.7 3.1-2.3 4.7-2.7 5.3-2.6 5.6-2.4 6.4-2.3 8-2.5 12.1-3.2z" fill="#00ff85"/>
<path d="M387.7 735.3l9.9-.7 10-.3 9 .3 9 .6 8 1.1 8 1.6 9 2.2 9 2.8 9 3.2 7.4 3.2 6.6 3.6 4.8 3.4 3 3 1.9 3 .9 3-.1 2-.5 2-.9 2-1.4 2-3 3-4.7 3.4-6.7 3.6-9.1 4-14.2 5.4-11 3.5-10 2.4-9 1.6-9 1-10 .6-12 .1-12-.4-9-.7-8-1.3-6-1.6-3-1.1-3.4-1.5-3.4-2-2.2-1.6-2.6-2.4-1.8-2-1.6-2.3-1.5-2.7-1.2-3-.9-3-.5-3-.2-4 .2-4 .6-3 .8-3 1.3-3 2.5-4 1.7-2 2-2 4.2-3.1 3-1.7 3-1.3 6-2.2 8-2 9-1.5 11.1-1.2zM517.4 846.3l4.2-.8 0 50.6-5-.1-8 .7-5 0-7.6-.4-5.4-.9-7.2-2.1-3.8-1.5-3-1.4-2-1.1-2.7-2-2.8-3-1.5-2.3-1-2.7-.4-2 .2-3 1-3 1.2-2 2.4-3 2.6-2.4 3-2.1 4.2-2.5 4.8-2.5 5.9-2.5 6.1-2.3 8.5-2.7 11.3-3z" fill="#00ff99"/>
<path d="M390 736.3l9.6-.6 9-.2 8 .2 8 .6 8 1.1 8 1.6 9 2.3 8 2.5 8 2.9 7 3.1 6.5 3.5 4.2 3 3.1 3 2 3 .9 3 0 2-.4 2-1 2-1.4 2-3 3-4.9 3.4-6.8 3.6-11.6 5-10.6 3.9-10 3.1-9 2.2-9 1.6-9 .9-10 .6-11 0-11-.4-9-.7-7.2-1.2-6.8-1.9-4-1.6-3-1.5-3-1.9-2-1.6-2-1.9-2.1-2.6-1.3-2-1.5-3-1.1-3-.7-3-.4-3 0-3 .3-3 .6-3 .9-3 1.4-3 1.3-2 1.6-2.2 1.7-1.8 2.3-2 4.6-3 5.4-2.5 7-2.3 7-1.6 9-1.5 10.4-1.1zM518.2 847.3l3.4-.6 0 48.1-5-.1-10 .8-9-.4-5.8-.8-6.8-2-5.4-2.3-4.7-2.7-1.3-1.1-1.9-1.9-1.4-2-1.2-3-.4-2 .2-3 .7-2.2 1.6-2.8 1.6-2 2.8-2.6 3.4-2.4 3.6-2.2 5-2.6 5-2.2 5.5-2 8.5-2.8 11.6-3.2z" fill="#00ffad"/>
<path d="M392.3 737.3l9.3-.6 8-.1 8 .3 7 .6 7 1 8 1.6 8 2.1 8 2.5 7.1 2.6 6.8 3 5.5 3 4.3 3 3.2 3 2.1 3.1 .7 1.9 .3 2-.2 2-.3 1-.9 2-1.5 2-3.1 3-4.3 3-5.4 3-9.3 4.2-11 4.3-10 3.2-10 2.4-8 1.4-9 1-9 .5-11 .1-10-.4-9-.8-8-1.3-6-1.6-3-1.1-3-1.4-2.5-1.5-2.8-2-2.3-2-1.7-2-1.7-2.3-1.4-2.7-1.2-3-.8-3-.4-3 0-3 .3-3 .6-3 .9-2.6 1.1-2.4 1.3-2 1.6-2.2 1.7-1.8 2.3-2 4.6-3 5.4-2.5 7-2.3 7-1.6 9-1.5 10.7-1.1zM518.9 848.3l2.7-.5 0 45.7-5-.1-10 .8-8-.3-6-.8-5.9-1.8-5.1-2.2-4.7-2.8-1.3-1-1.9-2-1.3-2-.8-2-.4-2 .3-3 1.1-3 1.3-2 1.8-2 2.2-2 3.7-2.6 3.9-2.4 3.9-2 4.2-1.8 13-4.7 12.3-3.5z" fill="#00ffc2"/>
<path d="M394.6 738.3l8-.5 8 0 8 .3 7 .8 7 1.1 7 1.5 7 1.9 8 2.6 7 2.7 5.7 2.6 5.2 3 4.1 3 2.9 3 1.7 3 .6 2 .1 1-.2 2-.3 1-1.7 3-1.7 2-1.4 1.3-2.2 1.7-3 2-5.5 3-8.8 4-10.4 4-9.1 2.9-9 2.1-8 1.4-9 1-9 .4-10 0-11-.5-8-.8-7-1.3-6-1.7-3-1.2-3-1.5-2.9-1.8-2.1-1.6-2-1.9-2-2.4-2.4-4.1-.8-2-.8-3-.5-3 0-3 .3-3 .7-3 1.2-3 1-2 1.4-2 1.6-2 3.3-3 2.9-2 2.1-1.2 6-2.7 6.8-2.1 7.2-1.6 9-1.4 10-1zM519.6 849.3l2-.3 0 43.3-5-.2-10 .8-8-.4-5-.7-5.2-1.5-2.8-1.1-3-1.5-3.6-2.4-1.4-1.2-1.7-1.8-1.2-2-.6-2-.2-2 .5-3 1-2 1.4-2 1.9-2 2.9-2.4 2.2-1.6 3.8-2.3 4-2.1 3.7-1.6 11.3-4.2 13-3.8z" fill="#00ffd6"/>
<path d="M397.3 739.3l8.3-.4 7 .1 7 .4 7 .8 7 1.3 7 1.6 7 2.1 6.1 2.1 7.2 3 4.7 2.3 4.4 2.7 3.8 3 2.6 3 1.2 2.5 .5 2.5-.2 2-.3 1-1.7 3-1.7 2-1.6 1.4-2.1 1.6-3.1 2-5.8 3.2-8.5 3.8-8.5 3.2-9 2.8-9 2.1-8 1.3-8 .8-9 .4-9-.1-10-.5-8-.9-7-1.3-6-1.8-3-1.3-3-1.6-2-1.3-2.3-1.8-2.1-2-1.6-2-2.3-4-.7-2-.8-3-.3-3 0-3 .5-3 .6-2 1-2.4 1.4-2.6 1.5-2 1.8-2 3.7-3 4.6-2.7 5.3-2.3 6.7-2 8-1.8 9-1.3 9.7-.9zM520.4 850.3l1.2-.1 0 40.7-5-.2-7 .7-3 .2-8-.5-5-.8-5-1.7-4.6-2.3-2.8-2-1.6-1.5-1.2-1.5-1.1-2-.5-2 0-2 .5-2 1-2 1.5-2 1.9-2 2.4-2 2.9-2 3.3-2 6.4-3 10.6-4 13.1-4z" fill="#00ffeb"/>
<path d="M400.5 740.3l7.1-.2 6 .1 7 .5 6 .8 6 1.1 7 1.7 6.6 2 5.6 2 5.8 2.4 5.1 2.6 3.9 2.4 3.3 2.6 1.9 2 1.9 3 .5 2 .1 1-.2 2-.3 1-1.7 3-2.9 3-4.1 3-7.1 4-8.4 3.8-8 2.9-8 2.5-8 1.8-8 1.3-8 .7-9 .3-9-.2-9-.6-8-1-7-1.4-5-1.7-5-2.4-3-2-2-1.7-2.1-2.3-1.4-2-2-4-.6-2-.5-3-.1-3 .2-2 .5-2.3 .9-2.7 1-2 1.3-2 1.6-2 2.1-2 4-3 5.1-2.6 5-2 7-1.9 7.6-1.5 9.4-1.3 8.9-.7zM518.2 852.3l3.4-.8 0 38.1-5-.3-7 .7-3 .2-7-.5-5-.8-4-1.3-4-2-3.2-2.3-1.8-2-1-1.7-.5-1.3-.3-2 .2-2 .8-2 1.2-2 1.7-2 2.2-2 4.7-3.2 6-3.1 11-4.4 10.6-3.3z" fill="#00ffff"/>
<path d="M406.3 741.3l6.3 .1 6 .4 6 .7 6 1.1 6 1.4 6 1.7 6 2.1 5.9 2.5 4 2 4.1 2.4 3.4 2.6 2 2 1.6 2.5 .9 2.5 0 2-.1 1-.8 2-2.1 3-3.4 3-5.5 3.6-6.6 3.4-7.1 3-7.3 2.5-8 2.3-7 1.4-7 1-8 .7-9 .1-9-.3-9-.8-7-1.1-6-1.5-5-1.9-2.7-1.4-2.3-1.5-2-1.5-2-2-1.6-2-1.3-2-.9-2-.7-2-.7-4 .1-3 .3-2 .8-2.5 1.1-2.5 1.3-2 1.6-2 3.2-3 4.5-3 5.3-2.4 6-2 7-1.7 9-1.5 9-1 8.7-.4zM519.3 853.3l2.3-.5 0 35.4-3-.3-2-.1-7 .8-3 .1-6-.5-4-.6-4-1.1-2.6-1.2-3-2-2.1-2-.7-1-1-2-.3-2 .2-2 .7-2 1.3-2 1.7-2 2.3-2 4.5-3 6.3-3 7.7-3.1 11.7-3.9z" fill="#00ebff"/>
<path d="M394.4 743.3l7.2-.6 6-.2 6 .2 6 .4 6 .9 6 1.2 6 1.5 6 2 6 2.3 4.7 2.3 5.1 3 3.2 2.5 2.3 2.5 .7 1.2 .8 1.8 .4 2-.2 1.7-.4 1.3-1.7 3-3 3-4.1 3-5.3 3-6.5 3-8 3-7 2.1-7 1.6-7 1.1-6 .6-7 .3-8-.1-9-.6-7-.8-6.3-1.2-5.7-1.7-5-2.1-4-2.6-3-2.9-1.4-1.7-1.2-2-.9-2-.6-2-.4-2 0-3 .2-2 .5-2 .7-2 1.1-2 2.2-3 3.1-3 4.6-3 4.2-2 5.7-2 6.2-1.6 7-1.3 7.8-1.1zM520.4 854.3l1.2-.1 0 32.5-3-.4-2 0-7 .7-3 .1-9-1.1-3-.8-3-1.4-2.1-1.5-1.9-2-1-1.8-.4-1.2-.1-2 .4-2 1.7-3 1.8-2 1.6-1.4 4-2.6 8.4-4 4.6-1.9 11.8-4.1z" fill="#00d6ff"/>
<path d="M397.5 744.3l6.1-.4 6-.1 6 .3 5 .5 5 .8 6 1.2 5.9 1.7 5.8 2 4.7 2 4 2 3.6 2.2 3.5 2.8 1.8 2 .7 1 1 2 .3 2 0 1-.5 2-1.8 3-2.9 3-4.2 3-5.4 3-6.5 2.9-6 2.2-7 2-7 1.6-7 1-6 .5-7 .2-7-.2-8-.7-7-.9-6-1.3-5-1.6-4-1.8-2-1.2-2.3-1.7-2.9-3-1.4-2-1-2-.7-2-.4-2-.2-2 .2-2 .4-2 .6-2 1.6-3 2.5-3 3.5-3 3.2-2 4.9-2.2 5.1-1.8 6.9-1.7 7-1.3 7.9-1zM519.3 856.3l2.3-.6 0 29.4-3-.4-2-.1-9 .8-7-.9-3-.7-3-1-2-1.2-1.4-1.3-.7-1-.9-2-.2-1 .1-2 .3-1 1-2 .8-1.1 1.9-1.9 4.4-3 8-4 13.4-5z" fill="#00c2ff"/>
<path d="M401.6 745.3l6-.2 5 .1 5 .4 5 .6 5 1 5 1.2 5.8 1.9 4.2 1.6 5.1 2.4 3.4 2 2.8 2 2.2 2 1.6 2 .9 2 .4 2 0 1-.5 2-.9 1.8-.8 1.2-3.1 3-4.1 2.9-3.7 2.1-6.3 2.9-5.7 2.1-6.7 2-6.6 1.4-6 .9-6 .6-7 .1-7-.3-7.7-.7-6.6-1-5.7-1.3-5-1.8-4-2-2-1.3-1.9-1.6-2.5-3-1.6-3-.6-2-.4-2 0-2 .3-2 .6-2 .9-2 2-3 3.1-3 2.9-2 3.7-2 4.9-2 5.6-1.7 6-1.3 7-1.2 8-.8zM518.6 858.3l3-.9 0 26-3-.5-2-.2-8 .7-3-.2-4.4-.9-3.2-1-2.4-1.3-1.7-1.7-.9-2-.1-1 .4-2 1.1-2 2.2-2.2 4-2.8 6-3.3 12-4.7z" fill="#00adff"/>
<path d="M395.5 747.3l6.1-.6 5-.3 5 .1 5 .4 5 .6 5 1 5 1.3 5 1.7 4.5 1.8 4 2 3.5 2.1 3.4 2.9 1.6 2 1.1 2 .4 2 0 1-.5 2-1 2-2.7 3-3.9 3-4.4 2.5-5.4 2.5-5.3 2-6.3 1.8-6 1.4-5.7 .8-5.3 .4-6 .2-7-.3-7-.7-6-.9-5-1.2-4.7-1.5-4.3-2-3-2-2.2-2-2.1-3-1.3-3-.4-3 .2-2 .4-2 1.4-3 2-2.7 2.4-2.3 3.6-2.4 4-2.1 4-1.5 6-1.8 5.7-1.2 6.2-1zM520.4 859.3l1.2-.1 0 22.3-3-.7-2-.2-2 0-5 .5-3-.2-4.9-1.6-1.8-1-1.2-1-.6-1-.4-1 0-1 .3-1 1.2-2 2-2 2.6-2 3.1-2 2.1-1 6.6-2.6 4.8-2.4z" fill="#0099ff"/>
<path d="M399.6 748.3l5-.4 5 0 5 .2 4 .5 4.3 .7 4.7 1.1 4 1.2 4.7 1.7 4.3 2 3.5 2 2.7 2 2 2 1.4 2 .7 2 .2 2-.5 2-1 1.9-.8 1.1-1.9 2-4.1 3-3.6 2-4.3 2-5.3 2-6 1.7-6 1.3-6 .8-5 .3-5 0-6-.4-6-.6-6-1.1-5-1.2-4-1.4-4-2-3-2.2-2.1-2.2-1.8-3-.8-3 .1-3 .9-3 1.7-2.8 2-2.2 2.4-2 3.3-2 4.3-2 5-1.7 5-1.3 6-1.2 6-.8zM519.2 862.3l2.4-1 0 17.9-3-.8-2-.5-2-.1-5 .2-2-.2-1.2-.5-1.3-1-.7-1-.4-1 0-1 .7-2 1.7-2 1.2-1 1.7-1 6.3-2.9 3.6-2.1z" fill="#0085ff"/>
<path d="M396.1 750.3l4.5-.6 5-.3 5 0 4 .2 5 .7 4 .8 4.5 1.2 3.5 1.2 4.3 1.8 3.7 2 2.8 2 2.2 2 1.4 2 .8 2 .2 2-.5 2-.9 1.7-.9 1.3-2 2-2.7 2-3.4 2-4.2 2-5.3 2-4.5 1.3-5 1.1-5 .7-5 .4-5 0-5-.2-5-.6-5-.8-5-1.1-4-1.3-3.5-1.5-3.3-2-2.3-2-1.5-2-1-2-.6-3 .3-3 .9-2.2 1.9-2.8 2.1-2 2.8-2 3.2-1.7 4-1.7 5-1.6 4.2-1 5.3-1zM520.4 864.3l1.2-.2 0 12.3-5.1-3.1-1-1-.4-1 .2-1 .6-1 4.5-5z" fill="#0070ff"/>
<path d="M401.3 751.3l4.3-.3 4 0 7 .5 7 1.4 4 1.2 3.1 1.2 2.9 1.4 2.8 1.6 2.7 2 1.9 2 .7 1 .9 2 .1 2-.4 2-1.1 2-1.8 2-2.5 2-3.3 2.1-4 1.9-5 1.9-4 1.1-5 1-5 .7-4 .2-5-.1-5-.4-4-.5-5-1-4-1.1-4-1.5-2.6-1.3-2.9-2-1.9-2-1.2-2-.7-2-.1-1 .1-2 .6-2 1.7-2.8 2.2-2.2 2.8-2 3-1.6 3-1.3 3.1-1.1 4.9-1.3 5-1.1 4.7-.6z" fill="#005cff"/>
<path d="M399.6 753.3l7-.6 7 .2 3 .4 4 .8 4 1.2 2.7 1 3.3 1.6 2.4 1.4 1.6 1.2 1.8 1.8 1.2 1.8 .5 1.2 .2 2-.4 2-1.2 2-1.9 2-2.6 2-2.6 1.5-3.1 1.5-3.9 1.4-4 1.2-4 .8-4 .5-4 .2-4-.1-4-.3-5-.7-4-.8-3.9-1.2-2.6-1-2.5-1.3-2.5-1.7-1.5-1.5-1.1-1.5-.9-2-.2-2 .4-2 1-2 1.5-2 2.3-1.9 2-1.3 3-1.6 3-1.2 4-1.3 4-1 4-.7z" fill="#0047ff"/>
<path d="M399.8 755.3l5.8-.6 6 0 6 .9 2.9 .7 3.1 1.1 3 1.3 2.6 1.6 1.4 1.1 1.8 1.9 .6 1 .6 2 0 1.3-.4 1.7-1.3 2-.9 1-2.4 2-2 1.2-3.8 1.8-2.8 1-3.4 .9-3 .6-6 .6-7-.2-7-1.2-3-.8-3-1.1-4-2.1-2-1.6-1-1.2-1-1.8-.3-1.1 0-2 .7-2 1.5-2 1-1 2.1-1.6 2.5-1.4 5.5-2.2 3-.9 4.2-.9z" fill="#0033ff"/>
<path d="M401.9 757.3l5.7-.5 5 .3 5 1 4 1.4 3.2 1.8 1.8 1.5 1.2 1.5 .7 2 .1 1-.5 2-1.4 2-1 1-3 2-4.6 2-5.5 1.4-5 .4-6-.2-5-.9-2.6-.7-2.6-1-3.5-2-1.3-1.2-1.3-1.8-.5-2 .1-1 .7-2 1.7-2 1.2-1 3.4-2 4.7-1.8 5.3-1.2z" fill="#001fff"/>
<path d="M401.7 760.3l3.9-.6 4-.1 4 .5 3 .9 2.6 1.3 1.4 1 1 1 .7 1 .3 1 .1 1-.2 1-1.1 2-2.4 2-3.4 1.6-3 .8-4 .6-4 0-4-.6-3-.9-3.2-1.5-1.3-1-.9-1-.5-1-.3-1 .2-1.5 .7-1.5 .9-1 1.4-1.1 1.5-.9 2.2-1 3.4-1z" fill="#000aff"/>
</g>
<path d="M332 790.4 H519" stroke="#fff" stroke-opacity="0.28" stroke-width="1" stroke-dasharray="1.6 1.4" shape-rendering="crispEdges"/>
<g clip-path="url(#cc)" font-family='"Liberation Sans", sans-serif' font-size="11.3" text-anchor="middle">
<linearGradient id="lg0" x1="0" y1="0" x2="0" y2="1"><stop offset="0" stop-color="#ff9800"/><stop offset="0.5" stop-color="#ffcc00"/><stop offset="1" stop-color="#f1ff00"/></linearGradient>
<g transform="translate(349.3 705.2) rotate(0)"><rect x="-10" y="-6" width="20" height="12" fill="url(#lg0)"/><text x="0" y="4.1" fill="#000" textLength="16.4" lengthAdjust="spacing">0.2</text></g>
<linearGradient id="lg1" x1="0" y1="0" x2="0" y2="1"><stop offset="0" stop-color="#8dff00"/><stop offset="0.5" stop-color="#66ff00"/><stop offset="1" stop-color="#2cff00"/></linearGradient>
<g transform="translate(328.1 727.8) rotate(-30)"><rect x="-10" y="-6" width="20" height="12" fill="url(#lg1)"/><text x="0" y="4.1" fill="#000" textLength="16.4" lengthAdjust="spacing">0.4</text></g>
<linearGradient id="lg2" x1="0" y1="0" x2="0" y2="1"><stop offset="0" stop-color="#aaff00"/><stop offset="0.5" stop-color="#66ff00"/><stop offset="1" stop-color="#00ff15"/></linearGradient>
<g transform="translate(425.3 722.2) rotate(0)"><rect x="-10" y="-6" width="20" height="12" fill="url(#lg2)"/><text x="0" y="4.1" fill="#000" textLength="16.4" lengthAdjust="spacing">0.4</text></g>
<linearGradient id="lg3" x1="0" y1="0" x2="0" y2="1"><stop offset="0" stop-color="#09ff00"/><stop offset="0.5" stop-color="#00ff66"/><stop offset="1" stop-color="#00ffd0"/></linearGradient>
<g transform="translate(401.5 732.1) rotate(0)"><rect x="-10" y="-6" width="20" height="12" fill="url(#lg3)"/><text x="0" y="4.1" fill="#000" textLength="16.4" lengthAdjust="spacing">0.6</text></g>
<linearGradient id="lg4" x1="0" y1="0" x2="0" y2="1"><stop offset="0" stop-color="#00ffe8"/><stop offset="0.5" stop-color="#00ccff"/><stop offset="1" stop-color="#009bff"/></linearGradient>
<g transform="translate(364.8 751.9) rotate(-35)"><rect x="-10" y="-6" width="20" height="12" fill="url(#lg4)"/><text x="0" y="4.1" fill="#000" textLength="16.4" lengthAdjust="spacing">0.8</text></g>
<linearGradient id="lg5" x1="0" y1="0" x2="0" y2="1"><stop offset="0" stop-color="#00ffe5"/><stop offset="0.5" stop-color="#00ccff"/><stop offset="1" stop-color="#006fff"/></linearGradient>
<g transform="translate(424.1 746.2) rotate(0)"><rect x="-10" y="-6" width="20" height="12" fill="url(#lg5)"/><text x="0" y="4.1" fill="#000" textLength="16.4" lengthAdjust="spacing">0.8</text></g>
<linearGradient id="lg6" x1="0" y1="0" x2="0" y2="1"><stop offset="0" stop-color="#00ff9a"/><stop offset="0.5" stop-color="#00ff66"/><stop offset="1" stop-color="#00ff28"/></linearGradient>
<g transform="translate(329.6 771.6) rotate(90)"><rect x="-10" y="-6" width="20" height="12" fill="url(#lg6)"/><text x="0" y="4.1" fill="#000" textLength="16.4" lengthAdjust="spacing">0.6</text></g>
<linearGradient id="lg7" x1="0" y1="0" x2="0" y2="1"><stop offset="0" stop-color="#00ff4f"/><stop offset="0.5" stop-color="#00ff66"/><stop offset="1" stop-color="#00ff9c"/></linearGradient>
<g transform="translate(494.6 758.9) rotate(55)"><rect x="-10" y="-6" width="20" height="12" fill="url(#lg7)"/><text x="0" y="4.1" fill="#000" textLength="16.4" lengthAdjust="spacing">0.6</text></g>
<linearGradient id="lg8" x1="0" y1="0" x2="0" y2="1"><stop offset="0" stop-color="#0087ff"/><stop offset="0.5" stop-color="#00ccff"/><stop offset="1" stop-color="#00ffc2"/></linearGradient>
<g transform="translate(419.8 791.4) rotate(-8)"><rect x="-10" y="-6" width="20" height="12" fill="url(#lg8)"/><text x="0" y="4.1" fill="#000" textLength="16.4" lengthAdjust="spacing">0.8</text></g>
<linearGradient id="lg9" x1="0" y1="0" x2="0" y2="1"><stop offset="0" stop-color="#00ffbf"/><stop offset="0.5" stop-color="#00ff66"/><stop offset="1" stop-color="#04ff00"/></linearGradient>
<g transform="translate(415.7 804.1) rotate(-5)"><rect x="-10" y="-6" width="20" height="12" fill="url(#lg9)"/><text x="0" y="4.1" fill="#000" textLength="16.4" lengthAdjust="spacing">0.6</text></g>
<linearGradient id="lg10" x1="0" y1="0" x2="0" y2="1"><stop offset="0" stop-color="#34ff00"/><stop offset="0.5" stop-color="#66ff00"/><stop offset="1" stop-color="#97ff00"/></linearGradient>
<g transform="translate(331.0 814.0) rotate(12)"><rect x="-10" y="-6" width="20" height="12" fill="url(#lg10)"/><text x="0" y="4.1" fill="#000" textLength="16.4" lengthAdjust="spacing">0.4</text></g>
<linearGradient id="lg11" x1="0" y1="0" x2="0" y2="1"><stop offset="0" stop-color="#23ff00"/><stop offset="0.5" stop-color="#66ff00"/><stop offset="1" stop-color="#adff00"/></linearGradient>
<g transform="translate(429.7 816.8) rotate(-5)"><rect x="-10" y="-6" width="20" height="12" fill="url(#lg11)"/><text x="0" y="4.1" fill="#000" textLength="16.4" lengthAdjust="spacing">0.4</text></g>
<linearGradient id="lg12" x1="0" y1="0" x2="0" y2="1"><stop offset="0" stop-color="#fdff00"/><stop offset="0.5" stop-color="#ffcc00"/><stop offset="1" stop-color="#ff9400"/></linearGradient>
<g transform="translate(366.2 836.6) rotate(0)"><rect x="-10" y="-6" width="20" height="12" fill="url(#lg12)"/><text x="0" y="4.1" fill="#000" textLength="16.4" lengthAdjust="spacing">0.2</text></g>
<linearGradient id="lg13" x1="0" y1="0" x2="0" y2="1"><stop offset="0" stop-color="#9eff00"/><stop offset="0.5" stop-color="#66ff00"/><stop offset="1" stop-color="#1dff00"/></linearGradient>
<g transform="translate(487.6 836.6) rotate(-10)"><rect x="-10" y="-6" width="20" height="12" fill="url(#lg13)"/><text x="0" y="4.1" fill="#000" textLength="16.4" lengthAdjust="spacing">0.4</text></g>
<linearGradient id="lg14" x1="0" y1="0" x2="0" y2="1"><stop offset="0" stop-color="#00ff26"/><stop offset="0.5" stop-color="#00ff66"/><stop offset="1" stop-color="#00ffe5"/></linearGradient>
<g transform="translate(504.5 849.3) rotate(-10)"><rect x="-10" y="-6" width="20" height="12" fill="url(#lg14)"/><text x="0" y="4.1" fill="#000" textLength="16.4" lengthAdjust="spacing">0.6</text></g>
<linearGradient id="lg15" x1="0" y1="0" x2="0" y2="1"><stop offset="0" stop-color="#ffda00"/><stop offset="0.5" stop-color="#ffcc00"/><stop offset="1" stop-color="#ff9800"/></linearGradient>
<g transform="translate(418.2 899.4) rotate(65)"><rect x="-10" y="-6" width="20" height="12" fill="url(#lg15)"/><text x="0" y="4.1" fill="#000" textLength="16.4" lengthAdjust="spacing">0.2</text></g>
</g>
<polygon points="362.9,878.6 364.5,883.4 369.6,883.5 365.5,886.5 367.0,891.3 362.9,888.3 358.8,891.3 360.4,886.5 356.3,883.5 361.3,883.4" fill="#000"/>
<rect x="300.6" y="680.3" width="220.0" height="220.0" fill="none" stroke="#000" stroke-width="2.5"/>
<path d="M300.60 679.1 V672.4 M300.60 901.5 V906.8 M307.93 679.1 V676.1 M307.93 901.5 V904.0 M315.27 679.1 V676.1 M315.27 901.5 V904.0 M322.60 679.1 V676.1 M322.60 901.5 V904.0 M329.93 679.1 V676.1 M329.93 901.5 V904.0 M337.27 679.1 V672.4 M337.27 901.5 V906.8 M344.60 679.1 V676.1 M344.60 901.5 V904.0 M351.93 679.1 V676.1 M351.93 901.5 V904.0 M359.27 679.1 V676.1 M359.27 901.5 V904.0 M366.60 679.1 V676.1 M366.60 901.5 V904.0 M373.93 679.1 V672.4 M373.93 901.5 V906.8 M381.27 679.1 V676.1 M381.27 901.5 V904.0 M388.60 679.1 V676.1 M388.60 901.5 V904.0 M395.93 679.1 V676.1 M395.93 901.5 V904.0 M403.27 679.1 V676.1 M403.27 901.5 V904.0 M410.60 679.1 V672.4 M410.60 901.5 V906.8 M417.93 679.1 V676.1 M417.93 901.5 V904.0 M425.27 679.1 V676.1 M425.27 901.5 V904.0 M432.60 679.1 V676.1 M432.60 901.5 V904.0 M439.93 679.1 V676.1 M439.93 901.5 V904.0 M447.27 679.1 V672.4 M447.27 901.5 V906.8 M454.60 679.1 V676.1 M454.60 901.5 V904.0 M461.93 679.1 V676.1 M461.93 901.5 V904.0 M469.27 679.1 V676.1 M469.27 901.5 V904.0 M476.60 679.1 V676.1 M476.60 901.5 V904.0 M483.93 679.1 V672.4 M483.93 901.5 V906.8 M491.27 679.1 V676.1 M491.27 901.5 V904.0 M498.60 679.1 V676.1 M498.60 901.5 V904.0 M505.93 679.1 V676.1 M505.93 901.5 V904.0 M513.27 679.1 V676.1 M513.27 901.5 V904.0 M520.60 679.1 V672.4 M520.60 901.5 V906.8 M299.4 680.30 H292.0 M521.8 680.30 H526.8 M299.4 692.52 H296.1 M521.8 692.52 H524.1 M299.4 704.74 H296.1 M521.8 704.74 H524.1 M299.4 716.97 H292.0 M521.8 716.97 H526.8 M299.4 729.19 H296.1 M521.8 729.19 H524.1 M299.4 741.41 H296.1 M521.8 741.41 H524.1 M299.4 753.63 H292.0 M521.8 753.63 H526.8 M299.4 765.86 H296.1 M521.8 765.86 H524.1 M299.4 778.08 H296.1 M521.8 778.08 H524.1 M299.4 790.30 H292.0 M521.8 790.30 H526.8 M299.4 802.52 H296.1 M521.8 802.52 H524.1 M299.4 814.74 H296.1 M521.8 814.74 H524.1 M299.4 826.97 H292.0 M521.8 826.97 H526.8 M299.4 839.19 H296.1 M521.8 839.19 H524.1 M299.4 851.41 H296.1 M521.8 851.41 H524.1 M299.4 863.63 H292.0 M521.8 863.63 H526.8 M299.4 875.86 H296.1 M521.8 875.86 H524.1 M299.4 888.08 H296.1 M521.8 888.08 H524.1 M299.4 900.30 H292.0 M521.8 900.30 H526.8 " stroke="#000" stroke-width="1" shape-rendering="crispEdges"/>
<g font-family='"Liberation Sans", sans-serif' font-size="18.06" fill="#000">
<text x="300.6" y="928.5" text-anchor="middle">0.0</text>
<text x="337.3" y="928.5" text-anchor="middle">0.5</text>
<text x="373.9" y="928.5" text-anchor="middle">1.0</text>
<text x="410.6" y="928.5" text-anchor="middle">1.5</text>
<text x="447.3" y="928.5" text-anchor="middle">2.0</text>
<text x="483.9" y="928.5" text-anchor="middle">2.5</text>
<text x="520.6" y="928.5" text-anchor="middle">3.0</text>
<text x="283.5" y="686.7" text-anchor="end">90</text>
<text x="283.5" y="723.4" text-anchor="end">60</text>
<text x="283.5" y="760.0" text-anchor="end">30</text>
<text x="283.5" y="796.7" text-anchor="end">0</text>
<text x="283.5" y="833.4" text-anchor="end">-30</text>
<text x="283.5" y="870.0" text-anchor="end">-60</text>
<text x="283.5" y="906.7" text-anchor="end">-90</text>
<text x="204.8" y="979.5" xml:space="preserve" font-size="17.9" style="white-space:pre" textLength="408.4" lengthAdjust="spacing">Ror=28.64; Rot= 3.08; Rct= 1.20; Rct/Rot= 0.39</text>
</g>
<g font-family='"Liberation Serif", serif' font-weight="bold" font-size="14.9" fill="#000">
<text x="411.1" y="954.3" text-anchor="middle" textLength="116.4" lengthAdjust="spacing">Splitting time (<tspan font-style="italic">s</tspan>)</text>
<text transform="translate(246.8 790) rotate(-90)" text-anchor="middle" textLength="159" lengthAdjust="spacing">Fast direction (degree)</text>
<text x="293.8" y="666.2" xml:space="preserve" style="white-space:pre" textLength="233.8" lengthAdjust="spacing">&#981;= -78.0 +/- 9.0<tspan font-size="10.5" dy="-5.5">o</tspan><tspan dy="5.5"> &#948;t= 0.85 +/-0.15</tspan><tspan font-style="italic">s</tspan></text>
</g>
</svg>
</body></html>
